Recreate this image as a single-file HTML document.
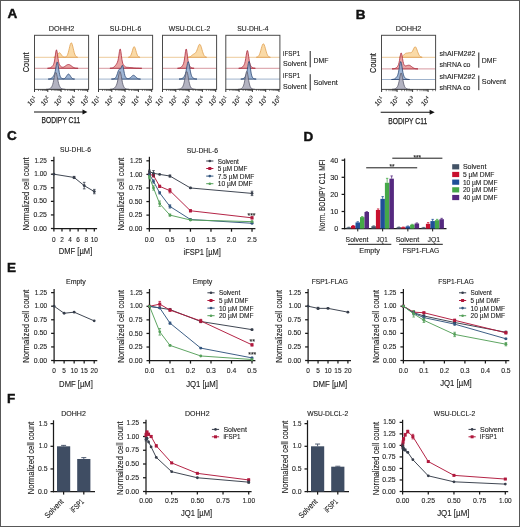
<!DOCTYPE html>
<html><head><meta charset="utf-8"><style>
html,body{margin:0;padding:0;background:#fff;}
svg{display:block;font-family:"Liberation Sans", sans-serif;will-change:transform;} text{stroke:#222;stroke-width:0.12px;}
</style></head><body>
<svg width="520" height="527" viewBox="0 0 520 527" fill="#222">
<rect width="520" height="527" fill="#fff"/>
<rect x="0.5" y="0.5" width="519" height="526" fill="none" stroke="#585858" stroke-width="1"/>
<text x="7.40" y="18.30" font-size="13.5" text-anchor="start" font-weight="bold" fill="#111" style="stroke:#111;stroke-width:0.45px">A</text>
<text x="355.80" y="18.60" font-size="13.5" text-anchor="start" font-weight="bold" fill="#111" style="stroke:#111;stroke-width:0.45px">B</text>
<text x="6.90" y="140.40" font-size="13.5" text-anchor="start" font-weight="bold" fill="#111" style="stroke:#111;stroke-width:0.45px">C</text>
<text x="303.40" y="140.50" font-size="13.5" text-anchor="start" font-weight="bold" fill="#111" style="stroke:#111;stroke-width:0.45px">D</text>
<text x="7.00" y="272.00" font-size="13.5" text-anchor="start" font-weight="bold" fill="#111" style="stroke:#111;stroke-width:0.45px">E</text>
<text x="7.00" y="403.00" font-size="13.5" text-anchor="start" font-weight="bold" fill="#111" style="stroke:#111;stroke-width:0.45px">F</text>
<text x="61.55" y="31.00" font-size="6.9" text-anchor="middle" textLength="25.50" lengthAdjust="spacingAndGlyphs">DOHH2</text>
<line x1="34.50" y1="57.30" x2="88.60" y2="57.30" stroke="#ebc590" stroke-width="0.9"/>
<line x1="34.50" y1="68.30" x2="88.60" y2="68.30" stroke="#d28c94" stroke-width="0.9"/>
<line x1="34.50" y1="79.10" x2="88.60" y2="79.10" stroke="#94aac6" stroke-width="0.9"/>
<path d="M53.7,57.3 L53.7,57.3 L54.2,57.2 L54.7,57.2 L55.2,57.0 L55.7,56.8 L56.2,56.4 L56.7,55.9 L57.2,55.3 L57.7,54.5 L58.2,53.8 L58.7,53.2 L59.2,52.8 L59.7,52.8 L60.2,53.2 L60.7,53.8 L61.2,54.5 L61.7,55.2 L62.2,55.9 L62.7,56.4 L63.2,56.8 L63.7,57.0 L64.2,57.1 L64.7,57.2 L65.2,57.1 L65.7,57.0 L66.2,56.7 L66.7,56.2 L67.2,55.5 L67.7,54.3 L68.2,52.8 L68.7,50.9 L69.2,48.8 L69.7,46.6 L70.2,44.7 L70.7,43.4 L71.2,42.8 L71.7,43.1 L72.2,44.3 L72.7,46.1 L73.2,48.2 L73.7,50.4 L74.2,52.4 L74.7,54.0 L75.2,55.2 L75.7,56.1 L76.2,56.6 L76.7,56.9 L77.2,57.1 L77.7,57.3 Z" fill="#f9d498" fill-opacity="0.85" stroke="#e0a050" stroke-width="0.8" stroke-linejoin="round"/>
<path d="M47.5,68.3 L47.5,68.3 L48.0,68.2 L48.5,68.2 L49.0,68.1 L49.5,68.0 L50.0,67.9 L50.5,67.7 L51.0,67.4 L51.5,67.0 L52.0,66.6 L52.5,66.1 L53.0,65.4 L53.5,64.5 L54.0,63.2 L54.5,61.0 L55.0,57.9 L55.5,54.1 L56.0,50.9 L56.5,49.8 L57.0,51.3 L57.5,54.7 L58.0,58.4 L58.5,61.4 L59.0,63.4 L59.5,64.7 L60.0,65.5 L60.5,66.1 L61.0,66.5 L61.5,66.9 L62.0,67.1 L62.5,67.2 L63.0,67.2 L63.5,67.1 L64.0,66.9 L64.5,66.6 L65.0,66.3 L65.5,65.9 L66.0,65.6 L66.5,65.2 L67.0,64.9 L67.5,64.7 L68.0,64.5 L68.5,64.5 L69.0,64.6 L69.5,64.7 L70.0,65.0 L70.5,65.3 L71.0,65.6 L71.5,66.0 L72.0,66.4 L72.5,66.8 L73.0,67.1 L73.5,67.4 L74.0,67.6 L74.5,67.8 L75.0,67.9 L75.5,68.1 L76.0,68.1 L76.5,68.2 L77.0,68.2 L77.5,68.3 L78.0,68.3 L78.1,68.3 Z" fill="#e69494" fill-opacity="0.85" stroke="#ab2a3c" stroke-width="0.8" stroke-linejoin="round"/>
<path d="M48.2,79.1 L48.2,79.1 L48.7,79.0 L49.2,79.0 L49.7,78.9 L50.2,78.8 L50.7,78.6 L51.2,78.4 L51.7,78.0 L52.2,77.6 L52.7,77.1 L53.2,76.4 L53.7,75.6 L54.2,74.7 L54.7,73.3 L55.2,71.4 L55.7,68.8 L56.2,65.7 L56.7,63.1 L57.2,61.9 L57.7,62.7 L58.2,65.4 L58.7,68.9 L59.2,72.2 L59.7,74.7 L60.2,76.3 L60.7,77.2 L61.2,77.8 L61.7,78.3 L62.2,78.5 L62.7,78.7 L63.2,78.8 L63.7,78.8 L64.2,78.6 L64.7,78.4 L65.2,78.0 L65.7,77.4 L66.2,76.7 L66.7,75.9 L67.2,75.2 L67.7,74.5 L68.2,74.2 L68.7,74.1 L69.2,74.4 L69.7,75.0 L70.2,75.7 L70.7,76.5 L71.2,77.3 L71.7,77.9 L72.2,78.3 L72.7,78.7 L73.2,78.9 L73.7,79.0 L74.2,79.0 L74.6,79.1 Z" fill="#8ea8cc" fill-opacity="0.85" stroke="#2c4874" stroke-width="0.8" stroke-linejoin="round"/>
<path d="M46.2,89.4 L46.2,89.4 L46.7,89.3 L47.2,89.3 L47.7,89.3 L48.2,89.2 L48.7,89.1 L49.2,88.9 L49.7,88.7 L50.2,88.4 L50.7,88.0 L51.2,87.5 L51.7,86.8 L52.2,85.8 L52.7,84.4 L53.2,82.6 L53.7,80.2 L54.2,77.7 L54.7,75.2 L55.2,73.3 L55.7,72.4 L56.2,72.8 L56.7,74.3 L57.2,76.6 L57.7,79.2 L58.2,81.7 L58.7,83.7 L59.2,85.3 L59.7,86.4 L60.2,87.3 L60.7,87.8 L61.2,88.3 L61.7,88.6 L62.2,88.8 L62.7,89.0 L63.2,89.1 L63.7,89.2 L64.2,89.3 L64.7,89.3 L65.2,89.4 L65.4,89.4 Z" fill="#a6a6b6" fill-opacity="0.85" stroke="#5a5a6c" stroke-width="0.8" stroke-linejoin="round"/>
<rect x="34.50" y="35.30" width="54.10" height="54.10" fill="none" stroke="#4a4a4a" stroke-width="1"/>
<text x="125.55" y="31.00" font-size="6.9" text-anchor="middle" textLength="31.40" lengthAdjust="spacingAndGlyphs">SU-DHL-6</text>
<line x1="98.50" y1="57.30" x2="152.60" y2="57.30" stroke="#ebc590" stroke-width="0.9"/>
<line x1="98.50" y1="68.30" x2="152.60" y2="68.30" stroke="#d28c94" stroke-width="0.9"/>
<line x1="98.50" y1="79.10" x2="152.60" y2="79.10" stroke="#94aac6" stroke-width="0.9"/>
<path d="M128.4,57.3 L128.4,57.2 L128.9,57.2 L129.4,57.0 L129.9,56.7 L130.4,56.1 L130.9,55.2 L131.4,54.0 L131.9,52.5 L132.4,50.7 L132.9,49.0 L133.4,47.6 L133.9,46.8 L134.4,46.8 L134.9,47.6 L135.4,48.9 L135.9,50.7 L136.4,52.4 L136.9,54.0 L137.4,55.2 L137.9,56.1 L138.4,56.6 L138.9,57.0 L139.4,57.1 L139.9,57.2 L140.0,57.3 Z" fill="#f9d498" fill-opacity="0.85" stroke="#e0a050" stroke-width="0.8" stroke-linejoin="round"/>
<path d="M109.9,68.3 L109.9,68.3 L110.4,68.2 L110.9,68.2 L111.4,68.1 L111.9,68.0 L112.4,67.9 L112.9,67.7 L113.4,67.4 L113.9,67.1 L114.4,66.6 L114.9,66.1 L115.4,65.5 L115.9,64.9 L116.4,64.2 L116.9,63.3 L117.4,62.3 L117.9,60.8 L118.4,58.5 L118.9,55.2 L119.4,51.7 L119.9,49.3 L120.4,49.2 L120.9,51.7 L121.4,55.5 L121.9,59.3 L122.4,62.0 L122.9,63.8 L123.4,64.8 L123.9,65.5 L124.4,66.0 L124.9,66.4 L125.4,66.8 L125.9,67.0 L126.4,67.2 L126.9,67.3 L127.4,67.3 L127.9,67.4 L128.4,67.4 L128.9,67.4 L129.4,67.5 L129.9,67.5 L130.4,67.5 L130.9,67.6 L131.4,67.6 L131.9,67.7 L132.4,67.7 L132.9,67.8 L133.4,67.9 L133.9,67.9 L134.4,68.0 L134.9,68.0 L135.4,68.1 L135.9,68.1 L136.4,68.2 L136.9,68.2 L137.4,68.2 L137.9,68.2 L138.4,68.2 L138.9,68.3 L139.4,68.3 L139.9,68.3 L140.4,68.3 L140.9,68.3 L141.4,68.3 L141.8,68.3 Z" fill="#e69494" fill-opacity="0.85" stroke="#ab2a3c" stroke-width="0.8" stroke-linejoin="round"/>
<path d="M111.4,79.1 L111.4,79.1 L111.9,79.0 L112.4,79.0 L112.9,79.0 L113.4,78.9 L113.9,78.8 L114.4,78.6 L114.9,78.3 L115.4,77.9 L115.9,77.3 L116.4,76.3 L116.9,75.1 L117.4,73.6 L117.9,72.0 L118.4,70.6 L118.9,69.6 L119.4,69.2 L119.9,69.1 L120.4,69.0 L120.9,68.3 L121.4,67.2 L121.9,65.9 L122.4,65.3 L122.9,66.1 L123.4,68.2 L123.9,70.9 L124.4,73.5 L124.9,75.5 L125.4,76.8 L125.9,77.6 L126.4,78.0 L126.9,78.3 L127.4,78.5 L127.9,78.6 L128.4,78.6 L128.9,78.5 L129.4,78.3 L129.9,78.0 L130.4,77.7 L130.9,77.2 L131.4,76.7 L131.9,76.2 L132.4,75.7 L132.9,75.4 L133.4,75.3 L133.9,75.4 L134.4,75.6 L134.9,76.0 L135.4,76.5 L135.9,77.0 L136.4,77.5 L136.9,77.9 L137.4,78.3 L137.9,78.6 L138.4,78.8 L138.9,78.9 L139.4,79.0 L139.9,79.0 L140.4,79.1 L140.5,79.1 Z" fill="#8ea8cc" fill-opacity="0.85" stroke="#2c4874" stroke-width="0.8" stroke-linejoin="round"/>
<path d="M109.9,89.4 L109.9,89.4 L110.4,89.3 L110.9,89.3 L111.4,89.2 L111.9,89.2 L112.4,89.0 L112.9,88.9 L113.4,88.6 L113.9,88.3 L114.4,88.0 L114.9,87.5 L115.4,86.9 L115.9,86.2 L116.4,85.2 L116.9,83.9 L117.4,82.0 L117.9,79.7 L118.4,77.0 L118.9,74.3 L119.4,72.3 L119.9,71.5 L120.4,72.1 L120.9,74.0 L121.4,76.7 L121.9,79.7 L122.4,82.3 L122.9,84.4 L123.4,85.9 L123.9,86.9 L124.4,87.7 L124.9,88.2 L125.4,88.5 L125.9,88.8 L126.4,89.0 L126.9,89.1 L127.4,89.2 L127.9,89.3 L128.4,89.3 L128.9,89.4 L129.1,89.4 Z" fill="#a6a6b6" fill-opacity="0.85" stroke="#5a5a6c" stroke-width="0.8" stroke-linejoin="round"/>
<rect x="98.50" y="35.30" width="54.10" height="54.10" fill="none" stroke="#4a4a4a" stroke-width="1"/>
<text x="189.55" y="31.00" font-size="6.9" text-anchor="middle" textLength="41.70" lengthAdjust="spacingAndGlyphs">WSU-DLCL-2</text>
<line x1="162.50" y1="57.30" x2="216.60" y2="57.30" stroke="#ebc590" stroke-width="0.9"/>
<line x1="162.50" y1="68.30" x2="216.60" y2="68.30" stroke="#d28c94" stroke-width="0.9"/>
<line x1="162.50" y1="79.10" x2="216.60" y2="79.10" stroke="#94aac6" stroke-width="0.9"/>
<path d="M187.0,57.3 L187.0,57.3 L187.5,57.3 L188.0,57.2 L188.5,57.2 L189.0,57.1 L189.5,56.9 L190.0,56.7 L190.5,56.5 L191.0,56.1 L191.5,55.7 L192.0,55.3 L192.5,54.9 L193.0,54.5 L193.5,54.2 L194.0,53.9 L194.5,53.6 L195.0,53.3 L195.5,52.9 L196.0,52.2 L196.5,51.3 L197.0,50.1 L197.5,48.7 L198.0,47.3 L198.5,45.9 L199.0,44.9 L199.5,44.3 L200.0,44.4 L200.5,45.1 L201.0,46.3 L201.5,47.9 L202.0,49.7 L202.5,51.4 L203.0,53.0 L203.5,54.3 L204.0,55.3 L204.5,56.1 L205.0,56.6 L205.5,56.9 L206.0,57.1 L206.5,57.2 L206.7,57.3 Z" fill="#f9d498" fill-opacity="0.85" stroke="#e0a050" stroke-width="0.8" stroke-linejoin="round"/>
<path d="M177.5,68.3 L177.5,68.3 L178.0,68.2 L178.5,68.2 L179.0,68.1 L179.5,68.0 L180.0,67.8 L180.5,67.6 L181.0,67.2 L181.5,66.8 L182.0,66.3 L182.5,65.6 L183.0,64.8 L183.5,63.6 L184.0,61.8 L184.5,59.0 L185.0,55.3 L185.5,51.4 L186.0,49.1 L186.5,49.4 L187.0,52.4 L187.5,56.6 L188.0,60.4 L188.5,63.2 L189.0,64.9 L189.5,65.9 L190.0,66.6 L190.5,67.1 L191.0,67.5 L191.5,67.7 L192.0,67.9 L192.5,68.1 L193.0,68.2 L193.5,68.2 L194.0,68.3 L194.1,68.3 Z" fill="#e69494" fill-opacity="0.85" stroke="#ab2a3c" stroke-width="0.8" stroke-linejoin="round"/>
<path d="M179.0,79.1 L179.0,79.1 L179.5,79.0 L180.0,79.0 L180.5,78.9 L181.0,78.8 L181.5,78.7 L182.0,78.5 L182.5,78.2 L183.0,77.8 L183.5,77.4 L184.0,76.8 L184.5,76.0 L185.0,74.9 L185.5,73.4 L186.0,71.3 L186.5,68.6 L187.0,65.8 L187.5,63.3 L188.0,61.8 L188.5,61.9 L189.0,63.5 L189.5,66.2 L190.0,69.2 L190.5,71.9 L191.0,74.1 L191.5,75.6 L192.0,76.7 L192.5,77.4 L193.0,77.9 L193.5,78.2 L194.0,78.5 L194.5,78.7 L195.0,78.8 L195.5,78.9 L196.0,79.0 L196.5,79.0 L197.0,79.1 Z" fill="#8ea8cc" fill-opacity="0.85" stroke="#2c4874" stroke-width="0.8" stroke-linejoin="round"/>
<path d="M177.5,89.4 L177.5,89.4 L178.0,89.3 L178.5,89.3 L179.0,89.2 L179.5,89.1 L180.0,89.0 L180.5,88.8 L181.0,88.5 L181.5,88.1 L182.0,87.6 L182.5,87.0 L183.0,86.1 L183.5,84.8 L184.0,83.1 L184.5,80.8 L185.0,78.1 L185.5,75.3 L186.0,72.9 L186.5,71.6 L187.0,71.7 L187.5,73.2 L188.0,75.7 L188.5,78.7 L189.0,81.5 L189.5,83.8 L190.0,85.5 L190.5,86.7 L191.0,87.6 L191.5,88.1 L192.0,88.5 L192.5,88.8 L193.0,89.0 L193.5,89.1 L194.0,89.2 L194.5,89.3 L195.0,89.3 L195.5,89.4 Z" fill="#a6a6b6" fill-opacity="0.85" stroke="#5a5a6c" stroke-width="0.8" stroke-linejoin="round"/>
<rect x="162.50" y="35.30" width="54.10" height="54.10" fill="none" stroke="#4a4a4a" stroke-width="1"/>
<text x="252.85" y="31.00" font-size="6.9" text-anchor="middle" textLength="31.20" lengthAdjust="spacingAndGlyphs">SU-DHL-4</text>
<line x1="225.80" y1="57.30" x2="279.90" y2="57.30" stroke="#ebc590" stroke-width="0.9"/>
<line x1="225.80" y1="68.30" x2="279.90" y2="68.30" stroke="#d28c94" stroke-width="0.9"/>
<line x1="225.80" y1="79.10" x2="279.90" y2="79.10" stroke="#94aac6" stroke-width="0.9"/>
<path d="M256.3,57.3 L256.3,57.2 L256.8,57.1 L257.3,57.0 L257.8,56.7 L258.3,56.3 L258.8,55.7 L259.3,54.8 L259.8,53.6 L260.3,52.1 L260.8,50.4 L261.3,48.5 L261.8,46.7 L262.3,45.2 L262.8,44.2 L263.3,43.8 L263.8,44.1 L264.3,45.0 L264.8,46.5 L265.3,48.2 L265.8,50.1 L266.3,51.8 L266.8,53.4 L267.3,54.6 L267.8,55.6 L268.3,56.2 L268.8,56.7 L269.3,57.0 L269.8,57.1 L270.3,57.2 L270.3,57.3 Z" fill="#f9d498" fill-opacity="0.85" stroke="#e0a050" stroke-width="0.8" stroke-linejoin="round"/>
<path d="M238.7,68.3 L238.7,68.3 L239.2,68.2 L239.7,68.2 L240.2,68.1 L240.7,68.0 L241.2,67.8 L241.7,67.6 L242.2,67.2 L242.7,66.8 L243.2,66.2 L243.7,65.5 L244.2,64.6 L244.7,63.4 L245.2,61.4 L245.7,58.7 L246.2,55.4 L246.7,52.3 L247.2,50.5 L247.7,50.8 L248.2,53.2 L248.7,56.6 L249.2,60.1 L249.7,62.8 L250.2,64.6 L250.7,65.8 L251.2,66.6 L251.7,67.1 L252.2,67.5 L252.7,67.7 L253.2,67.9 L253.7,68.1 L254.2,68.2 L254.7,68.2 L255.2,68.3 L255.3,68.3 Z" fill="#e69494" fill-opacity="0.85" stroke="#ab2a3c" stroke-width="0.8" stroke-linejoin="round"/>
<path d="M240.8,79.1 L240.8,79.1 L241.3,79.0 L241.8,79.0 L242.3,78.9 L242.8,78.7 L243.3,78.5 L243.8,78.2 L244.3,77.8 L244.8,77.2 L245.3,76.5 L245.8,75.6 L246.3,74.3 L246.8,72.4 L247.3,69.8 L247.8,66.5 L248.3,63.4 L248.8,61.5 L249.3,61.6 L249.8,63.9 L250.3,67.4 L250.8,71.0 L251.3,73.9 L251.8,75.9 L252.3,77.1 L252.8,77.8 L253.3,78.3 L253.8,78.6 L254.3,78.8 L254.8,78.9 L255.3,79.0 L255.8,79.0 L256.2,79.1 Z" fill="#8ea8cc" fill-opacity="0.85" stroke="#2c4874" stroke-width="0.8" stroke-linejoin="round"/>
<path d="M238.2,89.4 L238.2,89.4 L238.7,89.3 L239.2,89.3 L239.7,89.2 L240.2,89.1 L240.7,88.9 L241.2,88.7 L241.7,88.3 L242.2,87.8 L242.7,87.2 L243.2,86.3 L243.7,85.1 L244.2,83.3 L244.7,80.9 L245.2,78.0 L245.7,75.0 L246.2,72.6 L246.7,71.5 L247.2,72.0 L247.7,74.1 L248.2,77.1 L248.7,80.3 L249.2,83.0 L249.7,85.1 L250.2,86.5 L250.7,87.5 L251.2,88.1 L251.7,88.5 L252.2,88.8 L252.7,89.0 L253.2,89.2 L253.7,89.3 L254.2,89.3 L254.7,89.4 L254.8,89.4 Z" fill="#a6a6b6" fill-opacity="0.85" stroke="#5a5a6c" stroke-width="0.8" stroke-linejoin="round"/>
<rect x="225.80" y="35.30" width="54.10" height="54.10" fill="none" stroke="#4a4a4a" stroke-width="1"/>
<text x="408.55" y="31.00" font-size="6.9" text-anchor="middle" textLength="25.50" lengthAdjust="spacingAndGlyphs">DOHH2</text>
<line x1="381.50" y1="57.30" x2="435.60" y2="57.30" stroke="#ebc590" stroke-width="0.9"/>
<line x1="381.50" y1="68.90" x2="435.60" y2="68.90" stroke="#d28c94" stroke-width="0.9"/>
<line x1="381.50" y1="79.50" x2="435.60" y2="79.50" stroke="#94aac6" stroke-width="0.9"/>
<path d="M399.1,57.3 L399.1,57.3 L399.6,57.3 L400.1,57.2 L400.6,57.1 L401.1,57.0 L401.6,56.8 L402.1,56.5 L402.6,56.1 L403.1,55.7 L403.6,55.1 L404.1,54.6 L404.6,54.1 L405.1,53.7 L405.6,53.4 L406.1,53.2 L406.6,53.1 L407.1,53.0 L407.6,53.0 L408.1,52.9 L408.6,52.8 L409.1,52.7 L409.6,52.7 L410.1,52.7 L410.6,52.7 L411.1,52.6 L411.6,52.4 L412.1,51.8 L412.6,51.0 L413.1,50.0 L413.6,48.9 L414.1,47.9 L414.6,47.1 L415.1,46.8 L415.6,47.0 L416.1,47.7 L416.6,48.8 L417.1,50.1 L417.6,51.6 L418.1,52.9 L418.6,54.1 L419.1,55.1 L419.6,55.9 L420.1,56.4 L420.6,56.8 L421.1,57.0 L421.6,57.1 L422.1,57.2 L422.2,57.3 Z" fill="#f9d498" fill-opacity="0.85" stroke="#e0a050" stroke-width="0.8" stroke-linejoin="round"/>
<path d="M392.0,68.9 L392.0,68.9 L392.5,68.8 L393.0,68.8 L393.5,68.8 L394.0,68.7 L394.5,68.6 L395.0,68.4 L395.5,68.2 L396.0,67.9 L396.5,67.5 L397.0,67.0 L397.5,66.5 L398.0,65.7 L398.5,64.6 L399.0,62.8 L399.5,60.3 L400.0,57.3 L400.5,54.5 L401.0,52.9 L401.5,53.3 L402.0,55.5 L402.5,58.5 L403.0,61.3 L403.5,63.4 L404.0,64.7 L404.5,65.4 L405.0,65.7 L405.5,65.9 L406.0,65.8 L406.5,65.7 L407.0,65.6 L407.5,65.4 L408.0,65.3 L408.5,65.2 L409.0,65.2 L409.5,65.3 L410.0,65.5 L410.5,65.8 L411.0,66.1 L411.5,66.5 L412.0,66.9 L412.5,67.3 L413.0,67.6 L413.5,67.9 L414.0,68.2 L414.5,68.4 L415.0,68.5 L415.5,68.7 L416.0,68.7 L416.5,68.8 L417.0,68.8 L417.5,68.9 L418.0,68.9 Z" fill="#e69494" fill-opacity="0.85" stroke="#ab2a3c" stroke-width="0.8" stroke-linejoin="round"/>
<path d="M391.5,79.5 L391.5,79.5 L392.0,79.4 L392.5,79.4 L393.0,79.3 L393.5,79.2 L394.0,79.1 L394.5,78.9 L395.0,78.6 L395.5,78.2 L396.0,77.8 L396.5,77.2 L397.0,76.5 L397.5,75.6 L398.0,74.2 L398.5,72.2 L399.0,69.5 L399.5,66.3 L400.0,63.5 L400.5,61.7 L401.0,61.8 L401.5,63.7 L402.0,66.7 L402.5,70.0 L403.0,72.8 L403.5,74.9 L404.0,76.3 L404.5,77.2 L405.0,77.8 L405.5,78.3 L406.0,78.6 L406.5,78.9 L407.0,79.1 L407.5,79.2 L408.0,79.3 L408.5,79.4 L409.0,79.4 L409.5,79.5 Z" fill="#8ea8cc" fill-opacity="0.85" stroke="#2c4874" stroke-width="0.8" stroke-linejoin="round"/>
<path d="M392.0,89.4 L392.0,89.4 L392.5,89.3 L393.0,89.3 L393.5,89.2 L394.0,89.1 L394.5,89.0 L395.0,88.8 L395.5,88.6 L396.0,88.2 L396.5,87.8 L397.0,87.2 L397.5,86.5 L398.0,85.4 L398.5,83.9 L399.0,81.7 L399.5,79.2 L400.0,76.4 L400.5,74.1 L401.0,73.0 L401.5,73.3 L402.0,75.1 L402.5,77.7 L403.0,80.5 L403.5,83.0 L404.0,84.9 L404.5,86.3 L405.0,87.2 L405.5,87.8 L406.0,88.3 L406.5,88.6 L407.0,88.9 L407.5,89.0 L408.0,89.2 L408.5,89.3 L409.0,89.3 L409.5,89.3 L410.0,89.4 Z" fill="#a6a6b6" fill-opacity="0.85" stroke="#5a5a6c" stroke-width="0.8" stroke-linejoin="round"/>
<rect x="381.50" y="35.30" width="54.10" height="54.10" fill="none" stroke="#4a4a4a" stroke-width="1"/>
<line x1="38.50" y1="89.40" x2="38.50" y2="91.00" stroke="#333" stroke-width="0.6"/>
<line x1="40.85" y1="89.40" x2="40.85" y2="91.00" stroke="#333" stroke-width="0.6"/>
<line x1="42.51" y1="89.40" x2="42.51" y2="91.00" stroke="#333" stroke-width="0.6"/>
<line x1="43.80" y1="89.40" x2="43.80" y2="91.00" stroke="#333" stroke-width="0.6"/>
<line x1="44.85" y1="89.40" x2="44.85" y2="91.00" stroke="#333" stroke-width="0.6"/>
<line x1="45.74" y1="89.40" x2="45.74" y2="91.00" stroke="#333" stroke-width="0.6"/>
<line x1="46.51" y1="89.40" x2="46.51" y2="91.00" stroke="#333" stroke-width="0.6"/>
<line x1="47.19" y1="89.40" x2="47.19" y2="91.00" stroke="#333" stroke-width="0.6"/>
<line x1="51.80" y1="89.40" x2="51.80" y2="91.00" stroke="#333" stroke-width="0.6"/>
<line x1="54.15" y1="89.40" x2="54.15" y2="91.00" stroke="#333" stroke-width="0.6"/>
<line x1="55.81" y1="89.40" x2="55.81" y2="91.00" stroke="#333" stroke-width="0.6"/>
<line x1="57.10" y1="89.40" x2="57.10" y2="91.00" stroke="#333" stroke-width="0.6"/>
<line x1="58.15" y1="89.40" x2="58.15" y2="91.00" stroke="#333" stroke-width="0.6"/>
<line x1="59.04" y1="89.40" x2="59.04" y2="91.00" stroke="#333" stroke-width="0.6"/>
<line x1="59.81" y1="89.40" x2="59.81" y2="91.00" stroke="#333" stroke-width="0.6"/>
<line x1="60.49" y1="89.40" x2="60.49" y2="91.00" stroke="#333" stroke-width="0.6"/>
<line x1="65.10" y1="89.40" x2="65.10" y2="91.00" stroke="#333" stroke-width="0.6"/>
<line x1="67.45" y1="89.40" x2="67.45" y2="91.00" stroke="#333" stroke-width="0.6"/>
<line x1="69.11" y1="89.40" x2="69.11" y2="91.00" stroke="#333" stroke-width="0.6"/>
<line x1="70.40" y1="89.40" x2="70.40" y2="91.00" stroke="#333" stroke-width="0.6"/>
<line x1="71.45" y1="89.40" x2="71.45" y2="91.00" stroke="#333" stroke-width="0.6"/>
<line x1="72.34" y1="89.40" x2="72.34" y2="91.00" stroke="#333" stroke-width="0.6"/>
<line x1="73.11" y1="89.40" x2="73.11" y2="91.00" stroke="#333" stroke-width="0.6"/>
<line x1="73.79" y1="89.40" x2="73.79" y2="91.00" stroke="#333" stroke-width="0.6"/>
<line x1="78.40" y1="89.40" x2="78.40" y2="91.00" stroke="#333" stroke-width="0.6"/>
<line x1="80.75" y1="89.40" x2="80.75" y2="91.00" stroke="#333" stroke-width="0.6"/>
<line x1="82.41" y1="89.40" x2="82.41" y2="91.00" stroke="#333" stroke-width="0.6"/>
<line x1="83.70" y1="89.40" x2="83.70" y2="91.00" stroke="#333" stroke-width="0.6"/>
<line x1="84.75" y1="89.40" x2="84.75" y2="91.00" stroke="#333" stroke-width="0.6"/>
<line x1="85.64" y1="89.40" x2="85.64" y2="91.00" stroke="#333" stroke-width="0.6"/>
<line x1="86.41" y1="89.40" x2="86.41" y2="91.00" stroke="#333" stroke-width="0.6"/>
<line x1="87.09" y1="89.40" x2="87.09" y2="91.00" stroke="#333" stroke-width="0.6"/>
<line x1="34.50" y1="89.40" x2="34.50" y2="92.00" stroke="#222" stroke-width="0.9"/>
<text x="37.10" y="99.30" font-size="6.7" text-anchor="end" transform="rotate(-45 37.10 99.30)">10<tspan font-size="4.4" dy="-2.8">1</tspan></text>
<line x1="47.80" y1="89.40" x2="47.80" y2="92.00" stroke="#222" stroke-width="0.9"/>
<text x="50.40" y="99.30" font-size="6.7" text-anchor="end" transform="rotate(-45 50.40 99.30)">10<tspan font-size="4.4" dy="-2.8">2</tspan></text>
<line x1="61.10" y1="89.40" x2="61.10" y2="92.00" stroke="#222" stroke-width="0.9"/>
<text x="63.70" y="99.30" font-size="6.7" text-anchor="end" transform="rotate(-45 63.70 99.30)">10<tspan font-size="4.4" dy="-2.8">3</tspan></text>
<line x1="74.40" y1="89.40" x2="74.40" y2="92.00" stroke="#222" stroke-width="0.9"/>
<text x="77.00" y="99.30" font-size="6.7" text-anchor="end" transform="rotate(-45 77.00 99.30)">10<tspan font-size="4.4" dy="-2.8">4</tspan></text>
<line x1="87.70" y1="89.40" x2="87.70" y2="92.00" stroke="#222" stroke-width="0.9"/>
<text x="90.30" y="99.30" font-size="6.7" text-anchor="end" transform="rotate(-45 90.30 99.30)">10<tspan font-size="4.4" dy="-2.8">5</tspan></text>
<line x1="102.50" y1="89.40" x2="102.50" y2="91.00" stroke="#333" stroke-width="0.6"/>
<line x1="104.85" y1="89.40" x2="104.85" y2="91.00" stroke="#333" stroke-width="0.6"/>
<line x1="106.51" y1="89.40" x2="106.51" y2="91.00" stroke="#333" stroke-width="0.6"/>
<line x1="107.80" y1="89.40" x2="107.80" y2="91.00" stroke="#333" stroke-width="0.6"/>
<line x1="108.85" y1="89.40" x2="108.85" y2="91.00" stroke="#333" stroke-width="0.6"/>
<line x1="109.74" y1="89.40" x2="109.74" y2="91.00" stroke="#333" stroke-width="0.6"/>
<line x1="110.51" y1="89.40" x2="110.51" y2="91.00" stroke="#333" stroke-width="0.6"/>
<line x1="111.19" y1="89.40" x2="111.19" y2="91.00" stroke="#333" stroke-width="0.6"/>
<line x1="115.80" y1="89.40" x2="115.80" y2="91.00" stroke="#333" stroke-width="0.6"/>
<line x1="118.15" y1="89.40" x2="118.15" y2="91.00" stroke="#333" stroke-width="0.6"/>
<line x1="119.81" y1="89.40" x2="119.81" y2="91.00" stroke="#333" stroke-width="0.6"/>
<line x1="121.10" y1="89.40" x2="121.10" y2="91.00" stroke="#333" stroke-width="0.6"/>
<line x1="122.15" y1="89.40" x2="122.15" y2="91.00" stroke="#333" stroke-width="0.6"/>
<line x1="123.04" y1="89.40" x2="123.04" y2="91.00" stroke="#333" stroke-width="0.6"/>
<line x1="123.81" y1="89.40" x2="123.81" y2="91.00" stroke="#333" stroke-width="0.6"/>
<line x1="124.49" y1="89.40" x2="124.49" y2="91.00" stroke="#333" stroke-width="0.6"/>
<line x1="129.10" y1="89.40" x2="129.10" y2="91.00" stroke="#333" stroke-width="0.6"/>
<line x1="131.45" y1="89.40" x2="131.45" y2="91.00" stroke="#333" stroke-width="0.6"/>
<line x1="133.11" y1="89.40" x2="133.11" y2="91.00" stroke="#333" stroke-width="0.6"/>
<line x1="134.40" y1="89.40" x2="134.40" y2="91.00" stroke="#333" stroke-width="0.6"/>
<line x1="135.45" y1="89.40" x2="135.45" y2="91.00" stroke="#333" stroke-width="0.6"/>
<line x1="136.34" y1="89.40" x2="136.34" y2="91.00" stroke="#333" stroke-width="0.6"/>
<line x1="137.11" y1="89.40" x2="137.11" y2="91.00" stroke="#333" stroke-width="0.6"/>
<line x1="137.79" y1="89.40" x2="137.79" y2="91.00" stroke="#333" stroke-width="0.6"/>
<line x1="142.40" y1="89.40" x2="142.40" y2="91.00" stroke="#333" stroke-width="0.6"/>
<line x1="144.75" y1="89.40" x2="144.75" y2="91.00" stroke="#333" stroke-width="0.6"/>
<line x1="146.41" y1="89.40" x2="146.41" y2="91.00" stroke="#333" stroke-width="0.6"/>
<line x1="147.70" y1="89.40" x2="147.70" y2="91.00" stroke="#333" stroke-width="0.6"/>
<line x1="148.75" y1="89.40" x2="148.75" y2="91.00" stroke="#333" stroke-width="0.6"/>
<line x1="149.64" y1="89.40" x2="149.64" y2="91.00" stroke="#333" stroke-width="0.6"/>
<line x1="150.41" y1="89.40" x2="150.41" y2="91.00" stroke="#333" stroke-width="0.6"/>
<line x1="151.09" y1="89.40" x2="151.09" y2="91.00" stroke="#333" stroke-width="0.6"/>
<line x1="98.50" y1="89.40" x2="98.50" y2="92.00" stroke="#222" stroke-width="0.9"/>
<text x="101.10" y="99.30" font-size="6.7" text-anchor="end" transform="rotate(-45 101.10 99.30)">10<tspan font-size="4.4" dy="-2.8">1</tspan></text>
<line x1="111.80" y1="89.40" x2="111.80" y2="92.00" stroke="#222" stroke-width="0.9"/>
<text x="114.40" y="99.30" font-size="6.7" text-anchor="end" transform="rotate(-45 114.40 99.30)">10<tspan font-size="4.4" dy="-2.8">2</tspan></text>
<line x1="125.10" y1="89.40" x2="125.10" y2="92.00" stroke="#222" stroke-width="0.9"/>
<text x="127.70" y="99.30" font-size="6.7" text-anchor="end" transform="rotate(-45 127.70 99.30)">10<tspan font-size="4.4" dy="-2.8">3</tspan></text>
<line x1="138.40" y1="89.40" x2="138.40" y2="92.00" stroke="#222" stroke-width="0.9"/>
<text x="141.00" y="99.30" font-size="6.7" text-anchor="end" transform="rotate(-45 141.00 99.30)">10<tspan font-size="4.4" dy="-2.8">4</tspan></text>
<line x1="151.70" y1="89.40" x2="151.70" y2="92.00" stroke="#222" stroke-width="0.9"/>
<text x="154.30" y="99.30" font-size="6.7" text-anchor="end" transform="rotate(-45 154.30 99.30)">10<tspan font-size="4.4" dy="-2.8">5</tspan></text>
<line x1="166.50" y1="89.40" x2="166.50" y2="91.00" stroke="#333" stroke-width="0.6"/>
<line x1="168.85" y1="89.40" x2="168.85" y2="91.00" stroke="#333" stroke-width="0.6"/>
<line x1="170.51" y1="89.40" x2="170.51" y2="91.00" stroke="#333" stroke-width="0.6"/>
<line x1="171.80" y1="89.40" x2="171.80" y2="91.00" stroke="#333" stroke-width="0.6"/>
<line x1="172.85" y1="89.40" x2="172.85" y2="91.00" stroke="#333" stroke-width="0.6"/>
<line x1="173.74" y1="89.40" x2="173.74" y2="91.00" stroke="#333" stroke-width="0.6"/>
<line x1="174.51" y1="89.40" x2="174.51" y2="91.00" stroke="#333" stroke-width="0.6"/>
<line x1="175.19" y1="89.40" x2="175.19" y2="91.00" stroke="#333" stroke-width="0.6"/>
<line x1="179.80" y1="89.40" x2="179.80" y2="91.00" stroke="#333" stroke-width="0.6"/>
<line x1="182.15" y1="89.40" x2="182.15" y2="91.00" stroke="#333" stroke-width="0.6"/>
<line x1="183.81" y1="89.40" x2="183.81" y2="91.00" stroke="#333" stroke-width="0.6"/>
<line x1="185.10" y1="89.40" x2="185.10" y2="91.00" stroke="#333" stroke-width="0.6"/>
<line x1="186.15" y1="89.40" x2="186.15" y2="91.00" stroke="#333" stroke-width="0.6"/>
<line x1="187.04" y1="89.40" x2="187.04" y2="91.00" stroke="#333" stroke-width="0.6"/>
<line x1="187.81" y1="89.40" x2="187.81" y2="91.00" stroke="#333" stroke-width="0.6"/>
<line x1="188.49" y1="89.40" x2="188.49" y2="91.00" stroke="#333" stroke-width="0.6"/>
<line x1="193.10" y1="89.40" x2="193.10" y2="91.00" stroke="#333" stroke-width="0.6"/>
<line x1="195.45" y1="89.40" x2="195.45" y2="91.00" stroke="#333" stroke-width="0.6"/>
<line x1="197.11" y1="89.40" x2="197.11" y2="91.00" stroke="#333" stroke-width="0.6"/>
<line x1="198.40" y1="89.40" x2="198.40" y2="91.00" stroke="#333" stroke-width="0.6"/>
<line x1="199.45" y1="89.40" x2="199.45" y2="91.00" stroke="#333" stroke-width="0.6"/>
<line x1="200.34" y1="89.40" x2="200.34" y2="91.00" stroke="#333" stroke-width="0.6"/>
<line x1="201.11" y1="89.40" x2="201.11" y2="91.00" stroke="#333" stroke-width="0.6"/>
<line x1="201.79" y1="89.40" x2="201.79" y2="91.00" stroke="#333" stroke-width="0.6"/>
<line x1="206.40" y1="89.40" x2="206.40" y2="91.00" stroke="#333" stroke-width="0.6"/>
<line x1="208.75" y1="89.40" x2="208.75" y2="91.00" stroke="#333" stroke-width="0.6"/>
<line x1="210.41" y1="89.40" x2="210.41" y2="91.00" stroke="#333" stroke-width="0.6"/>
<line x1="211.70" y1="89.40" x2="211.70" y2="91.00" stroke="#333" stroke-width="0.6"/>
<line x1="212.75" y1="89.40" x2="212.75" y2="91.00" stroke="#333" stroke-width="0.6"/>
<line x1="213.64" y1="89.40" x2="213.64" y2="91.00" stroke="#333" stroke-width="0.6"/>
<line x1="214.41" y1="89.40" x2="214.41" y2="91.00" stroke="#333" stroke-width="0.6"/>
<line x1="215.09" y1="89.40" x2="215.09" y2="91.00" stroke="#333" stroke-width="0.6"/>
<line x1="162.50" y1="89.40" x2="162.50" y2="92.00" stroke="#222" stroke-width="0.9"/>
<text x="165.10" y="99.30" font-size="6.7" text-anchor="end" transform="rotate(-45 165.10 99.30)">10<tspan font-size="4.4" dy="-2.8">1</tspan></text>
<line x1="175.80" y1="89.40" x2="175.80" y2="92.00" stroke="#222" stroke-width="0.9"/>
<text x="178.40" y="99.30" font-size="6.7" text-anchor="end" transform="rotate(-45 178.40 99.30)">10<tspan font-size="4.4" dy="-2.8">2</tspan></text>
<line x1="189.10" y1="89.40" x2="189.10" y2="92.00" stroke="#222" stroke-width="0.9"/>
<text x="191.70" y="99.30" font-size="6.7" text-anchor="end" transform="rotate(-45 191.70 99.30)">10<tspan font-size="4.4" dy="-2.8">3</tspan></text>
<line x1="202.40" y1="89.40" x2="202.40" y2="92.00" stroke="#222" stroke-width="0.9"/>
<text x="205.00" y="99.30" font-size="6.7" text-anchor="end" transform="rotate(-45 205.00 99.30)">10<tspan font-size="4.4" dy="-2.8">4</tspan></text>
<line x1="215.70" y1="89.40" x2="215.70" y2="92.00" stroke="#222" stroke-width="0.9"/>
<text x="218.30" y="99.30" font-size="6.7" text-anchor="end" transform="rotate(-45 218.30 99.30)">10<tspan font-size="4.4" dy="-2.8">5</tspan></text>
<line x1="229.80" y1="89.40" x2="229.80" y2="91.00" stroke="#333" stroke-width="0.6"/>
<line x1="232.15" y1="89.40" x2="232.15" y2="91.00" stroke="#333" stroke-width="0.6"/>
<line x1="233.81" y1="89.40" x2="233.81" y2="91.00" stroke="#333" stroke-width="0.6"/>
<line x1="235.10" y1="89.40" x2="235.10" y2="91.00" stroke="#333" stroke-width="0.6"/>
<line x1="236.15" y1="89.40" x2="236.15" y2="91.00" stroke="#333" stroke-width="0.6"/>
<line x1="237.04" y1="89.40" x2="237.04" y2="91.00" stroke="#333" stroke-width="0.6"/>
<line x1="237.81" y1="89.40" x2="237.81" y2="91.00" stroke="#333" stroke-width="0.6"/>
<line x1="238.49" y1="89.40" x2="238.49" y2="91.00" stroke="#333" stroke-width="0.6"/>
<line x1="243.10" y1="89.40" x2="243.10" y2="91.00" stroke="#333" stroke-width="0.6"/>
<line x1="245.45" y1="89.40" x2="245.45" y2="91.00" stroke="#333" stroke-width="0.6"/>
<line x1="247.11" y1="89.40" x2="247.11" y2="91.00" stroke="#333" stroke-width="0.6"/>
<line x1="248.40" y1="89.40" x2="248.40" y2="91.00" stroke="#333" stroke-width="0.6"/>
<line x1="249.45" y1="89.40" x2="249.45" y2="91.00" stroke="#333" stroke-width="0.6"/>
<line x1="250.34" y1="89.40" x2="250.34" y2="91.00" stroke="#333" stroke-width="0.6"/>
<line x1="251.11" y1="89.40" x2="251.11" y2="91.00" stroke="#333" stroke-width="0.6"/>
<line x1="251.79" y1="89.40" x2="251.79" y2="91.00" stroke="#333" stroke-width="0.6"/>
<line x1="256.40" y1="89.40" x2="256.40" y2="91.00" stroke="#333" stroke-width="0.6"/>
<line x1="258.75" y1="89.40" x2="258.75" y2="91.00" stroke="#333" stroke-width="0.6"/>
<line x1="260.41" y1="89.40" x2="260.41" y2="91.00" stroke="#333" stroke-width="0.6"/>
<line x1="261.70" y1="89.40" x2="261.70" y2="91.00" stroke="#333" stroke-width="0.6"/>
<line x1="262.75" y1="89.40" x2="262.75" y2="91.00" stroke="#333" stroke-width="0.6"/>
<line x1="263.64" y1="89.40" x2="263.64" y2="91.00" stroke="#333" stroke-width="0.6"/>
<line x1="264.41" y1="89.40" x2="264.41" y2="91.00" stroke="#333" stroke-width="0.6"/>
<line x1="265.09" y1="89.40" x2="265.09" y2="91.00" stroke="#333" stroke-width="0.6"/>
<line x1="269.70" y1="89.40" x2="269.70" y2="91.00" stroke="#333" stroke-width="0.6"/>
<line x1="272.05" y1="89.40" x2="272.05" y2="91.00" stroke="#333" stroke-width="0.6"/>
<line x1="273.71" y1="89.40" x2="273.71" y2="91.00" stroke="#333" stroke-width="0.6"/>
<line x1="275.00" y1="89.40" x2="275.00" y2="91.00" stroke="#333" stroke-width="0.6"/>
<line x1="276.05" y1="89.40" x2="276.05" y2="91.00" stroke="#333" stroke-width="0.6"/>
<line x1="276.94" y1="89.40" x2="276.94" y2="91.00" stroke="#333" stroke-width="0.6"/>
<line x1="277.71" y1="89.40" x2="277.71" y2="91.00" stroke="#333" stroke-width="0.6"/>
<line x1="278.39" y1="89.40" x2="278.39" y2="91.00" stroke="#333" stroke-width="0.6"/>
<line x1="225.80" y1="89.40" x2="225.80" y2="92.00" stroke="#222" stroke-width="0.9"/>
<text x="228.40" y="99.30" font-size="6.7" text-anchor="end" transform="rotate(-45 228.40 99.30)">10<tspan font-size="4.4" dy="-2.8">1</tspan></text>
<line x1="239.10" y1="89.40" x2="239.10" y2="92.00" stroke="#222" stroke-width="0.9"/>
<text x="241.70" y="99.30" font-size="6.7" text-anchor="end" transform="rotate(-45 241.70 99.30)">10<tspan font-size="4.4" dy="-2.8">2</tspan></text>
<line x1="252.40" y1="89.40" x2="252.40" y2="92.00" stroke="#222" stroke-width="0.9"/>
<text x="255.00" y="99.30" font-size="6.7" text-anchor="end" transform="rotate(-45 255.00 99.30)">10<tspan font-size="4.4" dy="-2.8">3</tspan></text>
<line x1="265.70" y1="89.40" x2="265.70" y2="92.00" stroke="#222" stroke-width="0.9"/>
<text x="268.30" y="99.30" font-size="6.7" text-anchor="end" transform="rotate(-45 268.30 99.30)">10<tspan font-size="4.4" dy="-2.8">4</tspan></text>
<line x1="279.00" y1="89.40" x2="279.00" y2="92.00" stroke="#222" stroke-width="0.9"/>
<text x="281.60" y="99.30" font-size="6.7" text-anchor="end" transform="rotate(-45 281.60 99.30)">10<tspan font-size="4.4" dy="-2.8">5</tspan></text>
<line x1="34.00" y1="112.00" x2="83.50" y2="112.00" stroke="#111" stroke-width="1.1"/>
<path d="M82.5,109.5 L87.4,112 L82.5,114.5 Z" fill="#111"/>
<text x="60.90" y="123.20" font-size="9.4" text-anchor="middle" textLength="38.70" lengthAdjust="spacingAndGlyphs" style="stroke-width:0.25px">BODIPY C11</text>
<text x="29.20" y="62.40" font-size="9.8" text-anchor="middle" textLength="19.80" lengthAdjust="spacingAndGlyphs" transform="rotate(-90 29.20 62.40)" style="stroke-width:0.2px">Count</text>
<line x1="386.27" y1="89.40" x2="386.27" y2="91.20" stroke="#333" stroke-width="0.6"/>
<line x1="389.00" y1="89.40" x2="389.00" y2="91.20" stroke="#333" stroke-width="0.6"/>
<line x1="390.93" y1="89.40" x2="390.93" y2="91.20" stroke="#333" stroke-width="0.6"/>
<line x1="392.43" y1="89.40" x2="392.43" y2="91.20" stroke="#333" stroke-width="0.6"/>
<line x1="393.66" y1="89.40" x2="393.66" y2="91.20" stroke="#333" stroke-width="0.6"/>
<line x1="394.70" y1="89.40" x2="394.70" y2="91.20" stroke="#333" stroke-width="0.6"/>
<line x1="395.60" y1="89.40" x2="395.60" y2="91.20" stroke="#333" stroke-width="0.6"/>
<line x1="396.39" y1="89.40" x2="396.39" y2="91.20" stroke="#333" stroke-width="0.6"/>
<line x1="401.77" y1="89.40" x2="401.77" y2="91.20" stroke="#333" stroke-width="0.6"/>
<line x1="404.50" y1="89.40" x2="404.50" y2="91.20" stroke="#333" stroke-width="0.6"/>
<line x1="406.43" y1="89.40" x2="406.43" y2="91.20" stroke="#333" stroke-width="0.6"/>
<line x1="407.93" y1="89.40" x2="407.93" y2="91.20" stroke="#333" stroke-width="0.6"/>
<line x1="409.16" y1="89.40" x2="409.16" y2="91.20" stroke="#333" stroke-width="0.6"/>
<line x1="410.20" y1="89.40" x2="410.20" y2="91.20" stroke="#333" stroke-width="0.6"/>
<line x1="411.10" y1="89.40" x2="411.10" y2="91.20" stroke="#333" stroke-width="0.6"/>
<line x1="411.89" y1="89.40" x2="411.89" y2="91.20" stroke="#333" stroke-width="0.6"/>
<line x1="417.27" y1="89.40" x2="417.27" y2="91.20" stroke="#333" stroke-width="0.6"/>
<line x1="420.00" y1="89.40" x2="420.00" y2="91.20" stroke="#333" stroke-width="0.6"/>
<line x1="421.93" y1="89.40" x2="421.93" y2="91.20" stroke="#333" stroke-width="0.6"/>
<line x1="423.43" y1="89.40" x2="423.43" y2="91.20" stroke="#333" stroke-width="0.6"/>
<line x1="424.66" y1="89.40" x2="424.66" y2="91.20" stroke="#333" stroke-width="0.6"/>
<line x1="425.70" y1="89.40" x2="425.70" y2="91.20" stroke="#333" stroke-width="0.6"/>
<line x1="426.60" y1="89.40" x2="426.60" y2="91.20" stroke="#333" stroke-width="0.6"/>
<line x1="427.39" y1="89.40" x2="427.39" y2="91.20" stroke="#333" stroke-width="0.6"/>
<line x1="432.77" y1="89.40" x2="432.77" y2="91.20" stroke="#333" stroke-width="0.6"/>
<line x1="435.50" y1="89.40" x2="435.50" y2="91.20" stroke="#333" stroke-width="0.6"/>
<line x1="381.60" y1="89.40" x2="381.60" y2="92.00" stroke="#222" stroke-width="0.9"/>
<text x="384.20" y="99.60" font-size="6.7" text-anchor="end" transform="rotate(-45 384.20 99.60)">10<tspan font-size="4.4" dy="-2.8">1</tspan></text>
<line x1="397.10" y1="89.40" x2="397.10" y2="92.00" stroke="#222" stroke-width="0.9"/>
<text x="399.70" y="99.60" font-size="6.7" text-anchor="end" transform="rotate(-45 399.70 99.60)">10<tspan font-size="4.4" dy="-2.8">2</tspan></text>
<line x1="412.60" y1="89.40" x2="412.60" y2="92.00" stroke="#222" stroke-width="0.9"/>
<text x="415.20" y="99.60" font-size="6.7" text-anchor="end" transform="rotate(-45 415.20 99.60)">10<tspan font-size="4.4" dy="-2.8">3</tspan></text>
<line x1="428.10" y1="89.40" x2="428.10" y2="92.00" stroke="#222" stroke-width="0.9"/>
<text x="430.70" y="99.60" font-size="6.7" text-anchor="end" transform="rotate(-45 430.70 99.60)">10<tspan font-size="4.4" dy="-2.8">4</tspan></text>
<line x1="380.70" y1="112.30" x2="430.50" y2="112.30" stroke="#111" stroke-width="1.1"/>
<path d="M429.6,109.8 L434.7,112.3 L429.6,114.8 Z" fill="#111"/>
<text x="407.70" y="123.70" font-size="9.4" text-anchor="middle" textLength="39.00" lengthAdjust="spacingAndGlyphs" style="stroke-width:0.25px">BODIPY C11</text>
<text x="376.30" y="63.00" font-size="9.8" text-anchor="middle" textLength="19.80" lengthAdjust="spacingAndGlyphs" transform="rotate(-90 376.30 63.00)" style="stroke-width:0.2px">Count</text>
<text x="283.10" y="55.70" font-size="7" text-anchor="start" textLength="17.10" lengthAdjust="spacingAndGlyphs">iFSP1</text>
<text x="283.10" y="66.10" font-size="7" text-anchor="start" textLength="23.60" lengthAdjust="spacingAndGlyphs">Solvent</text>
<text x="283.10" y="78.00" font-size="7" text-anchor="start" textLength="17.10" lengthAdjust="spacingAndGlyphs">iFSP1</text>
<text x="283.10" y="89.30" font-size="7" text-anchor="start" textLength="23.60" lengthAdjust="spacingAndGlyphs">Solvent</text>
<line x1="310.20" y1="51.00" x2="310.20" y2="67.30" stroke="#222" stroke-width="1"/>
<line x1="310.20" y1="74.20" x2="310.20" y2="90.40" stroke="#222" stroke-width="1"/>
<text x="313.50" y="62.90" font-size="7" text-anchor="start" textLength="15.00" lengthAdjust="spacingAndGlyphs">DMF</text>
<text x="313.50" y="84.80" font-size="7" text-anchor="start" textLength="24.20" lengthAdjust="spacingAndGlyphs">Solvent</text>
<text x="439.50" y="55.50" font-size="7" text-anchor="start" textLength="35.80" lengthAdjust="spacingAndGlyphs">shAIFM2#2</text>
<text x="439.50" y="67.20" font-size="7" text-anchor="start" textLength="31.00" lengthAdjust="spacingAndGlyphs">shRNA co</text>
<text x="439.50" y="78.80" font-size="7" text-anchor="start" textLength="35.80" lengthAdjust="spacingAndGlyphs">shAIFM2#2</text>
<text x="439.50" y="90.10" font-size="7" text-anchor="start" textLength="31.00" lengthAdjust="spacingAndGlyphs">shRNA co</text>
<line x1="478.80" y1="52.50" x2="478.80" y2="67.70" stroke="#222" stroke-width="1"/>
<line x1="478.80" y1="75.50" x2="478.80" y2="90.20" stroke="#222" stroke-width="1"/>
<text x="481.80" y="62.90" font-size="7" text-anchor="start" textLength="15.00" lengthAdjust="spacingAndGlyphs">DMF</text>
<text x="481.80" y="84.40" font-size="7" text-anchor="start" textLength="24.20" lengthAdjust="spacingAndGlyphs">Solvent</text>
<line x1="53.90" y1="229.10" x2="53.90" y2="156.80" stroke="#1a1a1a" stroke-width="1.25"/>
<line x1="50.90" y1="228.50" x2="53.90" y2="228.50" stroke="#1a1a1a" stroke-width="1.25"/>
<text x="46.90" y="230.60" font-size="7.5" text-anchor="end" textLength="13.40" lengthAdjust="spacingAndGlyphs">0.00</text>
<line x1="50.90" y1="214.93" x2="53.90" y2="214.93" stroke="#1a1a1a" stroke-width="1.25"/>
<text x="46.90" y="217.03" font-size="7.5" text-anchor="end" textLength="13.40" lengthAdjust="spacingAndGlyphs">0.25</text>
<line x1="50.90" y1="201.35" x2="53.90" y2="201.35" stroke="#1a1a1a" stroke-width="1.25"/>
<text x="46.90" y="203.45" font-size="7.5" text-anchor="end" textLength="13.40" lengthAdjust="spacingAndGlyphs">0.50</text>
<line x1="50.90" y1="187.78" x2="53.90" y2="187.78" stroke="#1a1a1a" stroke-width="1.25"/>
<text x="46.90" y="189.88" font-size="7.5" text-anchor="end" textLength="13.40" lengthAdjust="spacingAndGlyphs">0.75</text>
<line x1="50.90" y1="174.20" x2="53.90" y2="174.20" stroke="#1a1a1a" stroke-width="1.25"/>
<text x="46.90" y="176.30" font-size="7.5" text-anchor="end" textLength="12.60" lengthAdjust="spacingAndGlyphs">1.00</text>
<line x1="50.90" y1="160.62" x2="53.90" y2="160.62" stroke="#1a1a1a" stroke-width="1.25"/>
<text x="46.90" y="162.72" font-size="7.5" text-anchor="end" textLength="12.40" lengthAdjust="spacingAndGlyphs">1.25</text>
<text x="28.80" y="194.00" font-size="9" text-anchor="middle" textLength="73.00" lengthAdjust="spacingAndGlyphs" transform="rotate(-90 28.80 194.00)">Normalized cell count</text>
<line x1="53.30" y1="228.50" x2="97.10" y2="228.50" stroke="#1a1a1a" stroke-width="1.25"/>
<line x1="53.90" y1="228.50" x2="53.90" y2="231.50" stroke="#1a1a1a" stroke-width="1.25"/>
<text x="53.90" y="241.80" font-size="7.5" text-anchor="middle" textLength="3.60" lengthAdjust="spacingAndGlyphs">0</text>
<line x1="61.98" y1="228.50" x2="61.98" y2="231.50" stroke="#1a1a1a" stroke-width="1.25"/>
<text x="61.98" y="241.80" font-size="7.5" text-anchor="middle" textLength="3.60" lengthAdjust="spacingAndGlyphs">2</text>
<line x1="70.06" y1="228.50" x2="70.06" y2="231.50" stroke="#1a1a1a" stroke-width="1.25"/>
<text x="70.06" y="241.80" font-size="7.5" text-anchor="middle" textLength="3.60" lengthAdjust="spacingAndGlyphs">4</text>
<line x1="78.14" y1="228.50" x2="78.14" y2="231.50" stroke="#1a1a1a" stroke-width="1.25"/>
<text x="78.14" y="241.80" font-size="7.5" text-anchor="middle" textLength="3.60" lengthAdjust="spacingAndGlyphs">6</text>
<line x1="86.22" y1="228.50" x2="86.22" y2="231.50" stroke="#1a1a1a" stroke-width="1.25"/>
<text x="86.22" y="241.80" font-size="7.5" text-anchor="middle" textLength="3.60" lengthAdjust="spacingAndGlyphs">8</text>
<line x1="94.30" y1="228.50" x2="94.30" y2="231.50" stroke="#1a1a1a" stroke-width="1.25"/>
<text x="94.30" y="241.80" font-size="7.5" text-anchor="middle" textLength="7.20" lengthAdjust="spacingAndGlyphs">10</text>
<text x="75.50" y="254.40" font-size="8.8" text-anchor="middle" textLength="33.50" lengthAdjust="spacingAndGlyphs">DMF [µM]</text>
<text x="75.45" y="152.10" font-size="6.9" text-anchor="middle" textLength="30.90" lengthAdjust="spacingAndGlyphs">SU-DHL-6</text>
<polyline points="53.90,174.20 74.10,177.46 84.20,185.60 94.30,191.58" fill="none" stroke="#363d4a" stroke-width="0.95" stroke-linejoin="round"/>
<line x1="74.10" y1="176.37" x2="74.10" y2="178.54" stroke="#363d4a" stroke-width="0.8"/>
<line x1="72.80" y1="176.37" x2="75.40" y2="176.37" stroke="#363d4a" stroke-width="0.8"/>
<line x1="72.80" y1="178.54" x2="75.40" y2="178.54" stroke="#363d4a" stroke-width="0.8"/>
<line x1="84.20" y1="182.34" x2="84.20" y2="188.86" stroke="#363d4a" stroke-width="0.8"/>
<line x1="82.90" y1="182.34" x2="85.50" y2="182.34" stroke="#363d4a" stroke-width="0.8"/>
<line x1="82.90" y1="188.86" x2="85.50" y2="188.86" stroke="#363d4a" stroke-width="0.8"/>
<line x1="94.30" y1="189.40" x2="94.30" y2="193.75" stroke="#363d4a" stroke-width="0.8"/>
<line x1="93.00" y1="189.40" x2="95.60" y2="189.40" stroke="#363d4a" stroke-width="0.8"/>
<line x1="93.00" y1="193.75" x2="95.60" y2="193.75" stroke="#363d4a" stroke-width="0.8"/>
<circle cx="53.90" cy="174.20" r="1.4" fill="#363d4a"/>
<circle cx="74.10" cy="177.46" r="1.4" fill="#363d4a"/>
<circle cx="84.20" cy="185.60" r="1.4" fill="#363d4a"/>
<circle cx="94.30" cy="191.58" r="1.4" fill="#363d4a"/>
<line x1="149.40" y1="229.30" x2="149.40" y2="156.80" stroke="#1a1a1a" stroke-width="1.25"/>
<line x1="146.40" y1="228.70" x2="149.40" y2="228.70" stroke="#1a1a1a" stroke-width="1.25"/>
<text x="142.40" y="230.80" font-size="7.5" text-anchor="end" textLength="13.40" lengthAdjust="spacingAndGlyphs">0.00</text>
<line x1="146.40" y1="215.12" x2="149.40" y2="215.12" stroke="#1a1a1a" stroke-width="1.25"/>
<text x="142.40" y="217.22" font-size="7.5" text-anchor="end" textLength="13.40" lengthAdjust="spacingAndGlyphs">0.25</text>
<line x1="146.40" y1="201.55" x2="149.40" y2="201.55" stroke="#1a1a1a" stroke-width="1.25"/>
<text x="142.40" y="203.65" font-size="7.5" text-anchor="end" textLength="13.40" lengthAdjust="spacingAndGlyphs">0.50</text>
<line x1="146.40" y1="187.97" x2="149.40" y2="187.97" stroke="#1a1a1a" stroke-width="1.25"/>
<text x="142.40" y="190.07" font-size="7.5" text-anchor="end" textLength="13.40" lengthAdjust="spacingAndGlyphs">0.75</text>
<line x1="146.40" y1="174.40" x2="149.40" y2="174.40" stroke="#1a1a1a" stroke-width="1.25"/>
<text x="142.40" y="176.50" font-size="7.5" text-anchor="end" textLength="12.60" lengthAdjust="spacingAndGlyphs">1.00</text>
<line x1="146.40" y1="160.82" x2="149.40" y2="160.82" stroke="#1a1a1a" stroke-width="1.25"/>
<text x="142.40" y="162.92" font-size="7.5" text-anchor="end" textLength="12.40" lengthAdjust="spacingAndGlyphs">1.25</text>
<text x="124.00" y="194.00" font-size="9" text-anchor="middle" textLength="73.00" lengthAdjust="spacingAndGlyphs" transform="rotate(-90 124.00 194.00)">Normalized cell count</text>
<line x1="148.80" y1="228.70" x2="255.40" y2="228.70" stroke="#1a1a1a" stroke-width="1.25"/>
<line x1="149.40" y1="228.70" x2="149.40" y2="231.70" stroke="#1a1a1a" stroke-width="1.25"/>
<text x="149.40" y="242.00" font-size="7.5" text-anchor="middle" textLength="9.50" lengthAdjust="spacingAndGlyphs">0.0</text>
<line x1="169.93" y1="228.70" x2="169.93" y2="231.70" stroke="#1a1a1a" stroke-width="1.25"/>
<text x="169.93" y="242.00" font-size="7.5" text-anchor="middle" textLength="9.50" lengthAdjust="spacingAndGlyphs">0.5</text>
<line x1="190.45" y1="228.70" x2="190.45" y2="231.70" stroke="#1a1a1a" stroke-width="1.25"/>
<text x="190.45" y="242.00" font-size="7.5" text-anchor="middle" textLength="9.50" lengthAdjust="spacingAndGlyphs">1.0</text>
<line x1="210.97" y1="228.70" x2="210.97" y2="231.70" stroke="#1a1a1a" stroke-width="1.25"/>
<text x="210.97" y="242.00" font-size="7.5" text-anchor="middle" textLength="9.50" lengthAdjust="spacingAndGlyphs">1.5</text>
<line x1="231.50" y1="228.70" x2="231.50" y2="231.70" stroke="#1a1a1a" stroke-width="1.25"/>
<text x="231.50" y="242.00" font-size="7.5" text-anchor="middle" textLength="9.50" lengthAdjust="spacingAndGlyphs">2.0</text>
<line x1="252.03" y1="228.70" x2="252.03" y2="231.70" stroke="#1a1a1a" stroke-width="1.25"/>
<text x="252.03" y="242.00" font-size="7.5" text-anchor="middle" textLength="9.50" lengthAdjust="spacingAndGlyphs">2.5</text>
<text x="202.20" y="255.00" font-size="8.8" text-anchor="middle" textLength="37.20" lengthAdjust="spacingAndGlyphs">iFSP1 [µM]</text>
<text x="202.40" y="152.50" font-size="6.9" text-anchor="middle" textLength="31.40" lengthAdjust="spacingAndGlyphs">SU-DHL-6</text>
<polyline points="149.40,174.40 153.50,175.49 159.66,186.35 169.93,190.69 190.45,210.78 252.03,217.84" fill="none" stroke="#b0183c" stroke-width="0.95" stroke-linejoin="round"/>
<line x1="149.40" y1="173.31" x2="149.40" y2="175.49" stroke="#b0183c" stroke-width="0.8"/>
<line x1="148.10" y1="173.31" x2="150.70" y2="173.31" stroke="#b0183c" stroke-width="0.8"/>
<line x1="148.10" y1="175.49" x2="150.70" y2="175.49" stroke="#b0183c" stroke-width="0.8"/>
<line x1="153.50" y1="173.86" x2="153.50" y2="177.11" stroke="#b0183c" stroke-width="0.8"/>
<line x1="152.20" y1="173.86" x2="154.81" y2="173.86" stroke="#b0183c" stroke-width="0.8"/>
<line x1="152.20" y1="177.11" x2="154.81" y2="177.11" stroke="#b0183c" stroke-width="0.8"/>
<line x1="159.66" y1="185.26" x2="159.66" y2="187.43" stroke="#b0183c" stroke-width="0.8"/>
<line x1="158.36" y1="185.26" x2="160.96" y2="185.26" stroke="#b0183c" stroke-width="0.8"/>
<line x1="158.36" y1="187.43" x2="160.96" y2="187.43" stroke="#b0183c" stroke-width="0.8"/>
<line x1="169.93" y1="188.52" x2="169.93" y2="192.86" stroke="#b0183c" stroke-width="0.8"/>
<line x1="168.62" y1="188.52" x2="171.23" y2="188.52" stroke="#b0183c" stroke-width="0.8"/>
<line x1="168.62" y1="192.86" x2="171.23" y2="192.86" stroke="#b0183c" stroke-width="0.8"/>
<line x1="190.45" y1="209.69" x2="190.45" y2="211.87" stroke="#b0183c" stroke-width="0.8"/>
<line x1="189.15" y1="209.69" x2="191.75" y2="209.69" stroke="#b0183c" stroke-width="0.8"/>
<line x1="189.15" y1="211.87" x2="191.75" y2="211.87" stroke="#b0183c" stroke-width="0.8"/>
<line x1="252.03" y1="216.75" x2="252.03" y2="218.93" stroke="#b0183c" stroke-width="0.8"/>
<line x1="250.72" y1="216.75" x2="253.33" y2="216.75" stroke="#b0183c" stroke-width="0.8"/>
<line x1="250.72" y1="218.93" x2="253.33" y2="218.93" stroke="#b0183c" stroke-width="0.8"/>
<rect x="147.90" y="172.90" width="3.00" height="3.00" fill="#b0183c" stroke="none" stroke-width="0"/>
<rect x="152.00" y="173.99" width="3.00" height="3.00" fill="#b0183c" stroke="none" stroke-width="0"/>
<rect x="158.16" y="184.85" width="3.00" height="3.00" fill="#b0183c" stroke="none" stroke-width="0"/>
<rect x="168.43" y="189.19" width="3.00" height="3.00" fill="#b0183c" stroke="none" stroke-width="0"/>
<rect x="188.95" y="209.28" width="3.00" height="3.00" fill="#b0183c" stroke="none" stroke-width="0"/>
<rect x="250.53" y="216.34" width="3.00" height="3.00" fill="#b0183c" stroke="none" stroke-width="0"/>
<polyline points="149.40,174.40 153.50,181.46 159.66,192.86 169.93,206.44 190.45,219.47 252.03,223.27" fill="none" stroke="#33567f" stroke-width="0.95" stroke-linejoin="round"/>
<line x1="149.40" y1="173.31" x2="149.40" y2="175.49" stroke="#33567f" stroke-width="0.8"/>
<line x1="148.10" y1="173.31" x2="150.70" y2="173.31" stroke="#33567f" stroke-width="0.8"/>
<line x1="148.10" y1="175.49" x2="150.70" y2="175.49" stroke="#33567f" stroke-width="0.8"/>
<line x1="153.50" y1="179.83" x2="153.50" y2="183.09" stroke="#33567f" stroke-width="0.8"/>
<line x1="152.20" y1="179.83" x2="154.81" y2="179.83" stroke="#33567f" stroke-width="0.8"/>
<line x1="152.20" y1="183.09" x2="154.81" y2="183.09" stroke="#33567f" stroke-width="0.8"/>
<line x1="159.66" y1="191.78" x2="159.66" y2="193.95" stroke="#33567f" stroke-width="0.8"/>
<line x1="158.36" y1="191.78" x2="160.96" y2="191.78" stroke="#33567f" stroke-width="0.8"/>
<line x1="158.36" y1="193.95" x2="160.96" y2="193.95" stroke="#33567f" stroke-width="0.8"/>
<line x1="169.93" y1="204.81" x2="169.93" y2="208.07" stroke="#33567f" stroke-width="0.8"/>
<line x1="168.62" y1="204.81" x2="171.23" y2="204.81" stroke="#33567f" stroke-width="0.8"/>
<line x1="168.62" y1="208.07" x2="171.23" y2="208.07" stroke="#33567f" stroke-width="0.8"/>
<line x1="190.45" y1="218.93" x2="190.45" y2="220.01" stroke="#33567f" stroke-width="0.8"/>
<line x1="189.15" y1="218.93" x2="191.75" y2="218.93" stroke="#33567f" stroke-width="0.8"/>
<line x1="189.15" y1="220.01" x2="191.75" y2="220.01" stroke="#33567f" stroke-width="0.8"/>
<line x1="252.03" y1="222.73" x2="252.03" y2="223.81" stroke="#33567f" stroke-width="0.8"/>
<line x1="250.72" y1="222.73" x2="253.33" y2="222.73" stroke="#33567f" stroke-width="0.8"/>
<line x1="250.72" y1="223.81" x2="253.33" y2="223.81" stroke="#33567f" stroke-width="0.8"/>
<circle cx="149.40" cy="174.40" r="1.4" fill="#33567f"/>
<circle cx="153.50" cy="181.46" r="1.4" fill="#33567f"/>
<circle cx="159.66" cy="192.86" r="1.4" fill="#33567f"/>
<circle cx="169.93" cy="206.44" r="1.4" fill="#33567f"/>
<circle cx="190.45" cy="219.47" r="1.4" fill="#33567f"/>
<circle cx="252.03" cy="223.27" r="1.4" fill="#33567f"/>
<polyline points="149.40,177.12 153.50,187.97 159.66,203.72 169.93,215.12 190.45,220.01 252.03,221.64" fill="none" stroke="#55a05a" stroke-width="0.95" stroke-linejoin="round"/>
<line x1="149.40" y1="175.49" x2="149.40" y2="178.74" stroke="#55a05a" stroke-width="0.8"/>
<line x1="148.10" y1="175.49" x2="150.70" y2="175.49" stroke="#55a05a" stroke-width="0.8"/>
<line x1="148.10" y1="178.74" x2="150.70" y2="178.74" stroke="#55a05a" stroke-width="0.8"/>
<line x1="153.50" y1="185.80" x2="153.50" y2="190.15" stroke="#55a05a" stroke-width="0.8"/>
<line x1="152.20" y1="185.80" x2="154.81" y2="185.80" stroke="#55a05a" stroke-width="0.8"/>
<line x1="152.20" y1="190.15" x2="154.81" y2="190.15" stroke="#55a05a" stroke-width="0.8"/>
<line x1="159.66" y1="201.01" x2="159.66" y2="206.44" stroke="#55a05a" stroke-width="0.8"/>
<line x1="158.36" y1="201.01" x2="160.96" y2="201.01" stroke="#55a05a" stroke-width="0.8"/>
<line x1="158.36" y1="206.44" x2="160.96" y2="206.44" stroke="#55a05a" stroke-width="0.8"/>
<line x1="169.93" y1="214.04" x2="169.93" y2="216.21" stroke="#55a05a" stroke-width="0.8"/>
<line x1="168.62" y1="214.04" x2="171.23" y2="214.04" stroke="#55a05a" stroke-width="0.8"/>
<line x1="168.62" y1="216.21" x2="171.23" y2="216.21" stroke="#55a05a" stroke-width="0.8"/>
<line x1="190.45" y1="219.47" x2="190.45" y2="220.56" stroke="#55a05a" stroke-width="0.8"/>
<line x1="189.15" y1="219.47" x2="191.75" y2="219.47" stroke="#55a05a" stroke-width="0.8"/>
<line x1="189.15" y1="220.56" x2="191.75" y2="220.56" stroke="#55a05a" stroke-width="0.8"/>
<line x1="252.03" y1="221.10" x2="252.03" y2="222.18" stroke="#55a05a" stroke-width="0.8"/>
<line x1="250.72" y1="221.10" x2="253.33" y2="221.10" stroke="#55a05a" stroke-width="0.8"/>
<line x1="250.72" y1="222.18" x2="253.33" y2="222.18" stroke="#55a05a" stroke-width="0.8"/>
<circle cx="149.40" cy="177.12" r="1.4" fill="#55a05a"/>
<circle cx="153.50" cy="187.97" r="1.4" fill="#55a05a"/>
<circle cx="159.66" cy="203.72" r="1.4" fill="#55a05a"/>
<circle cx="169.93" cy="215.12" r="1.4" fill="#55a05a"/>
<circle cx="190.45" cy="220.01" r="1.4" fill="#55a05a"/>
<circle cx="252.03" cy="221.64" r="1.4" fill="#55a05a"/>
<polyline points="149.40,171.69 153.50,173.31 159.66,174.40 169.93,176.03 190.45,187.97 252.03,193.40" fill="none" stroke="#363d4a" stroke-width="0.95" stroke-linejoin="round"/>
<line x1="149.40" y1="170.06" x2="149.40" y2="173.31" stroke="#363d4a" stroke-width="0.8"/>
<line x1="148.10" y1="170.06" x2="150.70" y2="170.06" stroke="#363d4a" stroke-width="0.8"/>
<line x1="148.10" y1="173.31" x2="150.70" y2="173.31" stroke="#363d4a" stroke-width="0.8"/>
<line x1="153.50" y1="170.60" x2="153.50" y2="176.03" stroke="#363d4a" stroke-width="0.8"/>
<line x1="152.20" y1="170.60" x2="154.81" y2="170.60" stroke="#363d4a" stroke-width="0.8"/>
<line x1="152.20" y1="176.03" x2="154.81" y2="176.03" stroke="#363d4a" stroke-width="0.8"/>
<line x1="169.93" y1="174.94" x2="169.93" y2="177.12" stroke="#363d4a" stroke-width="0.8"/>
<line x1="168.62" y1="174.94" x2="171.23" y2="174.94" stroke="#363d4a" stroke-width="0.8"/>
<line x1="168.62" y1="177.12" x2="171.23" y2="177.12" stroke="#363d4a" stroke-width="0.8"/>
<line x1="190.45" y1="187.43" x2="190.45" y2="188.52" stroke="#363d4a" stroke-width="0.8"/>
<line x1="189.15" y1="187.43" x2="191.75" y2="187.43" stroke="#363d4a" stroke-width="0.8"/>
<line x1="189.15" y1="188.52" x2="191.75" y2="188.52" stroke="#363d4a" stroke-width="0.8"/>
<line x1="252.03" y1="191.23" x2="252.03" y2="195.58" stroke="#363d4a" stroke-width="0.8"/>
<line x1="250.72" y1="191.23" x2="253.33" y2="191.23" stroke="#363d4a" stroke-width="0.8"/>
<line x1="250.72" y1="195.58" x2="253.33" y2="195.58" stroke="#363d4a" stroke-width="0.8"/>
<circle cx="149.40" cy="171.69" r="1.4" fill="#363d4a"/>
<circle cx="153.50" cy="173.31" r="1.4" fill="#363d4a"/>
<circle cx="159.66" cy="174.40" r="1.4" fill="#363d4a"/>
<circle cx="169.93" cy="176.03" r="1.4" fill="#363d4a"/>
<circle cx="190.45" cy="187.97" r="1.4" fill="#363d4a"/>
<circle cx="252.03" cy="193.40" r="1.4" fill="#363d4a"/>
<line x1="206.20" y1="161.00" x2="213.40" y2="161.00" stroke="#363d4a" stroke-width="1"/>
<circle cx="209.80" cy="161.00" r="1.3" fill="#363d4a"/>
<text x="217.70" y="163.50" font-size="7" text-anchor="start" textLength="21.00" lengthAdjust="spacingAndGlyphs">Solvent</text>
<line x1="206.20" y1="168.50" x2="213.40" y2="168.50" stroke="#b0183c" stroke-width="1"/>
<rect x="208.30" y="167.00" width="3.00" height="3.00" fill="#b0183c" stroke="none" stroke-width="0"/>
<text x="217.70" y="171.00" font-size="7" text-anchor="start" textLength="29.80" lengthAdjust="spacingAndGlyphs">5 µM DMF</text>
<line x1="206.20" y1="176.10" x2="213.40" y2="176.10" stroke="#33567f" stroke-width="1"/>
<circle cx="209.80" cy="176.10" r="1.3" fill="#33567f"/>
<text x="217.70" y="178.60" font-size="7" text-anchor="start" textLength="36.50" lengthAdjust="spacingAndGlyphs">7.5 µM DMF</text>
<line x1="206.20" y1="183.70" x2="213.40" y2="183.70" stroke="#55a05a" stroke-width="1"/>
<circle cx="209.80" cy="183.70" r="1.3" fill="#55a05a"/>
<text x="217.70" y="186.20" font-size="7" text-anchor="start" textLength="35.00" lengthAdjust="spacingAndGlyphs">10 µM DMF</text>
<text x="251.50" y="218.00" font-size="7" text-anchor="middle" textLength="8.00" lengthAdjust="spacingAndGlyphs">***</text>
<line x1="344.60" y1="229.20" x2="344.60" y2="158.50" stroke="#1a1a1a" stroke-width="1.25"/>
<line x1="341.60" y1="228.60" x2="344.60" y2="228.60" stroke="#1a1a1a" stroke-width="1.25"/>
<text x="338.20" y="230.90" font-size="7.5" text-anchor="end" textLength="3.90" lengthAdjust="spacingAndGlyphs">0</text>
<line x1="341.60" y1="211.50" x2="344.60" y2="211.50" stroke="#1a1a1a" stroke-width="1.25"/>
<text x="338.20" y="213.80" font-size="7.5" text-anchor="end" textLength="8.00" lengthAdjust="spacingAndGlyphs">10</text>
<line x1="341.60" y1="194.40" x2="344.60" y2="194.40" stroke="#1a1a1a" stroke-width="1.25"/>
<text x="338.20" y="196.70" font-size="7.5" text-anchor="end" textLength="8.00" lengthAdjust="spacingAndGlyphs">20</text>
<line x1="341.60" y1="177.30" x2="344.60" y2="177.30" stroke="#1a1a1a" stroke-width="1.25"/>
<text x="338.20" y="179.60" font-size="7.5" text-anchor="end" textLength="8.00" lengthAdjust="spacingAndGlyphs">30</text>
<line x1="341.60" y1="160.20" x2="344.60" y2="160.20" stroke="#1a1a1a" stroke-width="1.25"/>
<text x="338.20" y="162.50" font-size="7.5" text-anchor="end" textLength="8.00" lengthAdjust="spacingAndGlyphs">40</text>
<text x="324.80" y="195.20" font-size="9" text-anchor="middle" textLength="71.50" lengthAdjust="spacingAndGlyphs" transform="rotate(-90 324.80 195.20)">Norm. BODIPY C11 MFI</text>
<line x1="344.00" y1="228.60" x2="446.50" y2="228.60" stroke="#1a1a1a" stroke-width="1.25"/>
<rect x="346.50" y="227.40" width="4.50" height="1.20" fill="#435366" stroke="none" stroke-width="0"/>
<line x1="348.75" y1="227.40" x2="348.75" y2="227.23" stroke="#435366" stroke-width="0.8"/>
<line x1="347.55" y1="227.23" x2="349.95" y2="227.23" stroke="#435366" stroke-width="0.8"/>
<rect x="351.00" y="225.86" width="4.50" height="2.74" fill="#c8102e" stroke="none" stroke-width="0"/>
<line x1="353.25" y1="225.86" x2="353.25" y2="225.52" stroke="#c8102e" stroke-width="0.8"/>
<line x1="352.05" y1="225.52" x2="354.45" y2="225.52" stroke="#c8102e" stroke-width="0.8"/>
<rect x="355.50" y="222.44" width="4.50" height="6.16" fill="#1f4f98" stroke="none" stroke-width="0"/>
<line x1="357.75" y1="222.44" x2="357.75" y2="221.76" stroke="#1f4f98" stroke-width="0.8"/>
<line x1="356.55" y1="221.76" x2="358.95" y2="221.76" stroke="#1f4f98" stroke-width="0.8"/>
<rect x="360.00" y="217.14" width="4.50" height="11.46" fill="#45a848" stroke="none" stroke-width="0"/>
<line x1="362.25" y1="217.14" x2="362.25" y2="216.63" stroke="#45a848" stroke-width="0.8"/>
<line x1="361.05" y1="216.63" x2="363.45" y2="216.63" stroke="#45a848" stroke-width="0.8"/>
<rect x="364.50" y="212.01" width="4.50" height="16.59" fill="#55297f" stroke="none" stroke-width="0"/>
<line x1="366.75" y1="212.01" x2="366.75" y2="211.67" stroke="#55297f" stroke-width="0.8"/>
<line x1="365.55" y1="211.67" x2="367.95" y2="211.67" stroke="#55297f" stroke-width="0.8"/>
<line x1="357.75" y1="228.60" x2="357.75" y2="231.40" stroke="#1a1a1a" stroke-width="1"/>
<rect x="371.40" y="226.21" width="4.50" height="2.39" fill="#435366" stroke="none" stroke-width="0"/>
<line x1="373.65" y1="226.21" x2="373.65" y2="225.86" stroke="#435366" stroke-width="0.8"/>
<line x1="372.45" y1="225.86" x2="374.85" y2="225.86" stroke="#435366" stroke-width="0.8"/>
<rect x="375.90" y="209.96" width="4.50" height="18.64" fill="#c8102e" stroke="none" stroke-width="0"/>
<line x1="378.15" y1="209.96" x2="378.15" y2="208.94" stroke="#c8102e" stroke-width="0.8"/>
<line x1="376.95" y1="208.94" x2="379.35" y2="208.94" stroke="#c8102e" stroke-width="0.8"/>
<rect x="380.40" y="198.85" width="4.50" height="29.75" fill="#1f4f98" stroke="none" stroke-width="0"/>
<line x1="382.65" y1="198.85" x2="382.65" y2="196.62" stroke="#1f4f98" stroke-width="0.8"/>
<line x1="381.45" y1="196.62" x2="383.85" y2="196.62" stroke="#1f4f98" stroke-width="0.8"/>
<rect x="384.90" y="182.77" width="4.50" height="45.83" fill="#45a848" stroke="none" stroke-width="0"/>
<line x1="387.15" y1="182.77" x2="387.15" y2="178.33" stroke="#45a848" stroke-width="0.8"/>
<line x1="385.95" y1="178.33" x2="388.35" y2="178.33" stroke="#45a848" stroke-width="0.8"/>
<rect x="389.40" y="178.67" width="4.50" height="49.93" fill="#55297f" stroke="none" stroke-width="0"/>
<line x1="391.65" y1="178.67" x2="391.65" y2="175.93" stroke="#55297f" stroke-width="0.8"/>
<line x1="390.45" y1="175.93" x2="392.85" y2="175.93" stroke="#55297f" stroke-width="0.8"/>
<line x1="382.65" y1="228.60" x2="382.65" y2="231.40" stroke="#1a1a1a" stroke-width="1"/>
<rect x="396.60" y="227.23" width="4.50" height="1.37" fill="#435366" stroke="none" stroke-width="0"/>
<line x1="398.85" y1="227.23" x2="398.85" y2="227.06" stroke="#435366" stroke-width="0.8"/>
<line x1="397.65" y1="227.06" x2="400.05" y2="227.06" stroke="#435366" stroke-width="0.8"/>
<rect x="401.10" y="227.23" width="4.50" height="1.37" fill="#c8102e" stroke="none" stroke-width="0"/>
<line x1="403.35" y1="227.23" x2="403.35" y2="227.06" stroke="#c8102e" stroke-width="0.8"/>
<line x1="402.15" y1="227.06" x2="404.55" y2="227.06" stroke="#c8102e" stroke-width="0.8"/>
<rect x="405.60" y="226.38" width="4.50" height="2.22" fill="#1f4f98" stroke="none" stroke-width="0"/>
<line x1="407.85" y1="226.38" x2="407.85" y2="226.03" stroke="#1f4f98" stroke-width="0.8"/>
<line x1="406.65" y1="226.03" x2="409.05" y2="226.03" stroke="#1f4f98" stroke-width="0.8"/>
<rect x="410.10" y="224.67" width="4.50" height="3.93" fill="#45a848" stroke="none" stroke-width="0"/>
<line x1="412.35" y1="224.67" x2="412.35" y2="224.32" stroke="#45a848" stroke-width="0.8"/>
<line x1="411.15" y1="224.32" x2="413.55" y2="224.32" stroke="#45a848" stroke-width="0.8"/>
<rect x="414.60" y="223.47" width="4.50" height="5.13" fill="#55297f" stroke="none" stroke-width="0"/>
<line x1="416.85" y1="223.47" x2="416.85" y2="222.96" stroke="#55297f" stroke-width="0.8"/>
<line x1="415.65" y1="222.96" x2="418.05" y2="222.96" stroke="#55297f" stroke-width="0.8"/>
<line x1="407.85" y1="228.60" x2="407.85" y2="231.40" stroke="#1a1a1a" stroke-width="1"/>
<rect x="421.40" y="227.57" width="4.50" height="1.03" fill="#435366" stroke="none" stroke-width="0"/>
<line x1="423.65" y1="227.57" x2="423.65" y2="227.40" stroke="#435366" stroke-width="0.8"/>
<line x1="422.45" y1="227.40" x2="424.85" y2="227.40" stroke="#435366" stroke-width="0.8"/>
<rect x="425.90" y="223.81" width="4.50" height="4.79" fill="#c8102e" stroke="none" stroke-width="0"/>
<line x1="428.15" y1="223.81" x2="428.15" y2="222.62" stroke="#c8102e" stroke-width="0.8"/>
<line x1="426.95" y1="222.62" x2="429.35" y2="222.62" stroke="#c8102e" stroke-width="0.8"/>
<rect x="430.40" y="221.08" width="4.50" height="7.52" fill="#1f4f98" stroke="none" stroke-width="0"/>
<line x1="432.65" y1="221.08" x2="432.65" y2="219.37" stroke="#1f4f98" stroke-width="0.8"/>
<line x1="431.45" y1="219.37" x2="433.85" y2="219.37" stroke="#1f4f98" stroke-width="0.8"/>
<rect x="434.90" y="220.22" width="4.50" height="8.38" fill="#45a848" stroke="none" stroke-width="0"/>
<line x1="437.15" y1="220.22" x2="437.15" y2="219.37" stroke="#45a848" stroke-width="0.8"/>
<line x1="435.95" y1="219.37" x2="438.35" y2="219.37" stroke="#45a848" stroke-width="0.8"/>
<rect x="439.40" y="219.19" width="4.50" height="9.40" fill="#55297f" stroke="none" stroke-width="0"/>
<line x1="441.65" y1="219.19" x2="441.65" y2="218.34" stroke="#55297f" stroke-width="0.8"/>
<line x1="440.45" y1="218.34" x2="442.85" y2="218.34" stroke="#55297f" stroke-width="0.8"/>
<line x1="432.65" y1="228.60" x2="432.65" y2="231.40" stroke="#1a1a1a" stroke-width="1"/>
<text x="357.00" y="242.00" font-size="7" text-anchor="middle" textLength="22.80" lengthAdjust="spacingAndGlyphs">Solvent</text>
<text x="382.10" y="242.00" font-size="7" text-anchor="middle" textLength="11.40" lengthAdjust="spacingAndGlyphs">JQ1</text>
<text x="407.40" y="242.00" font-size="7" text-anchor="middle" textLength="23.50" lengthAdjust="spacingAndGlyphs">Solvent</text>
<text x="433.80" y="242.00" font-size="7" text-anchor="middle" textLength="12.50" lengthAdjust="spacingAndGlyphs">JQ1</text>
<line x1="348.00" y1="244.30" x2="391.30" y2="244.30" stroke="#1a1a1a" stroke-width="1"/>
<line x1="399.20" y1="244.30" x2="442.80" y2="244.30" stroke="#1a1a1a" stroke-width="1"/>
<text x="369.60" y="253.40" font-size="7.5" text-anchor="middle" textLength="20.50" lengthAdjust="spacingAndGlyphs">Empty</text>
<text x="421.00" y="253.40" font-size="7.5" text-anchor="middle" textLength="36.50" lengthAdjust="spacingAndGlyphs">FSP1-FLAG</text>
<line x1="366.20" y1="167.80" x2="417.20" y2="167.80" stroke="#1a1a1a" stroke-width="1"/>
<line x1="392.30" y1="158.20" x2="442.40" y2="158.20" stroke="#1a1a1a" stroke-width="1"/>
<text x="392.00" y="169.00" font-size="6.5" text-anchor="middle" textLength="5.00" lengthAdjust="spacingAndGlyphs">**</text>
<text x="417.30" y="160.00" font-size="6.5" text-anchor="middle" textLength="7.50" lengthAdjust="spacingAndGlyphs">***</text>
<rect x="452.20" y="164.20" width="7.00" height="5.20" fill="#435366" stroke="none" stroke-width="0"/>
<text x="462.90" y="169.30" font-size="7" text-anchor="start" textLength="23.50" lengthAdjust="spacingAndGlyphs">Solvent</text>
<rect x="452.20" y="171.88" width="7.00" height="5.20" fill="#c8102e" stroke="none" stroke-width="0"/>
<text x="462.90" y="176.98" font-size="7" text-anchor="start" textLength="31.50" lengthAdjust="spacingAndGlyphs">5 µM DMF</text>
<rect x="452.20" y="179.56" width="7.00" height="5.20" fill="#1f4f98" stroke="none" stroke-width="0"/>
<text x="462.90" y="184.66" font-size="7" text-anchor="start" textLength="34.60" lengthAdjust="spacingAndGlyphs">10 µM DMF</text>
<rect x="452.20" y="187.24" width="7.00" height="5.20" fill="#45a848" stroke="none" stroke-width="0"/>
<text x="462.90" y="192.34" font-size="7" text-anchor="start" textLength="34.60" lengthAdjust="spacingAndGlyphs">20 µM DMF</text>
<rect x="452.20" y="194.92" width="7.00" height="5.20" fill="#55297f" stroke="none" stroke-width="0"/>
<text x="462.90" y="200.02" font-size="7" text-anchor="start" textLength="34.60" lengthAdjust="spacingAndGlyphs">40 µM DMF</text>
<line x1="54.10" y1="361.10" x2="54.10" y2="289.00" stroke="#1a1a1a" stroke-width="1.25"/>
<line x1="51.10" y1="360.50" x2="54.10" y2="360.50" stroke="#1a1a1a" stroke-width="1.25"/>
<text x="47.10" y="362.60" font-size="7.5" text-anchor="end" textLength="13.40" lengthAdjust="spacingAndGlyphs">0.00</text>
<line x1="51.10" y1="346.93" x2="54.10" y2="346.93" stroke="#1a1a1a" stroke-width="1.25"/>
<text x="47.10" y="349.03" font-size="7.5" text-anchor="end" textLength="13.40" lengthAdjust="spacingAndGlyphs">0.25</text>
<line x1="51.10" y1="333.35" x2="54.10" y2="333.35" stroke="#1a1a1a" stroke-width="1.25"/>
<text x="47.10" y="335.45" font-size="7.5" text-anchor="end" textLength="13.40" lengthAdjust="spacingAndGlyphs">0.50</text>
<line x1="51.10" y1="319.77" x2="54.10" y2="319.77" stroke="#1a1a1a" stroke-width="1.25"/>
<text x="47.10" y="321.88" font-size="7.5" text-anchor="end" textLength="13.40" lengthAdjust="spacingAndGlyphs">0.75</text>
<line x1="51.10" y1="306.20" x2="54.10" y2="306.20" stroke="#1a1a1a" stroke-width="1.25"/>
<text x="47.10" y="308.30" font-size="7.5" text-anchor="end" textLength="12.60" lengthAdjust="spacingAndGlyphs">1.00</text>
<line x1="51.10" y1="292.62" x2="54.10" y2="292.62" stroke="#1a1a1a" stroke-width="1.25"/>
<text x="47.10" y="294.73" font-size="7.5" text-anchor="end" textLength="12.40" lengthAdjust="spacingAndGlyphs">1.25</text>
<text x="28.80" y="326.25" font-size="9" text-anchor="middle" textLength="73.00" lengthAdjust="spacingAndGlyphs" transform="rotate(-90 28.80 326.25)">Normalized cell count</text>
<line x1="53.50" y1="360.50" x2="97.30" y2="360.50" stroke="#1a1a1a" stroke-width="1.25"/>
<line x1="54.10" y1="360.50" x2="54.10" y2="363.50" stroke="#1a1a1a" stroke-width="1.25"/>
<text x="54.10" y="373.30" font-size="7.5" text-anchor="middle" textLength="3.60" lengthAdjust="spacingAndGlyphs">0</text>
<line x1="64.12" y1="360.50" x2="64.12" y2="363.50" stroke="#1a1a1a" stroke-width="1.25"/>
<text x="64.12" y="373.30" font-size="7.5" text-anchor="middle" textLength="3.60" lengthAdjust="spacingAndGlyphs">5</text>
<line x1="74.15" y1="360.50" x2="74.15" y2="363.50" stroke="#1a1a1a" stroke-width="1.25"/>
<text x="74.15" y="373.30" font-size="7.5" text-anchor="middle" textLength="7.20" lengthAdjust="spacingAndGlyphs">10</text>
<line x1="84.17" y1="360.50" x2="84.17" y2="363.50" stroke="#1a1a1a" stroke-width="1.25"/>
<text x="84.17" y="373.30" font-size="7.5" text-anchor="middle" textLength="7.20" lengthAdjust="spacingAndGlyphs">15</text>
<line x1="94.20" y1="360.50" x2="94.20" y2="363.50" stroke="#1a1a1a" stroke-width="1.25"/>
<text x="94.20" y="373.30" font-size="7.5" text-anchor="middle" textLength="7.20" lengthAdjust="spacingAndGlyphs">20</text>
<text x="76.00" y="386.70" font-size="8.8" text-anchor="middle" textLength="33.80" lengthAdjust="spacingAndGlyphs">DMF [µM]</text>
<text x="75.90" y="284.00" font-size="6.9" text-anchor="middle" textLength="19.80" lengthAdjust="spacingAndGlyphs">Empty</text>
<polyline points="54.10,306.20 64.12,313.26 74.15,312.17 94.20,320.86" fill="none" stroke="#363d4a" stroke-width="0.95" stroke-linejoin="round"/>
<circle cx="54.10" cy="306.20" r="1.4" fill="#363d4a"/>
<circle cx="64.12" cy="313.26" r="1.4" fill="#363d4a"/>
<circle cx="74.15" cy="312.17" r="1.4" fill="#363d4a"/>
<circle cx="94.20" cy="320.86" r="1.4" fill="#363d4a"/>
<line x1="308.10" y1="361.10" x2="308.10" y2="289.00" stroke="#1a1a1a" stroke-width="1.25"/>
<line x1="305.10" y1="360.50" x2="308.10" y2="360.50" stroke="#1a1a1a" stroke-width="1.25"/>
<text x="301.10" y="362.60" font-size="7.5" text-anchor="end" textLength="13.40" lengthAdjust="spacingAndGlyphs">0.00</text>
<line x1="305.10" y1="346.93" x2="308.10" y2="346.93" stroke="#1a1a1a" stroke-width="1.25"/>
<text x="301.10" y="349.03" font-size="7.5" text-anchor="end" textLength="13.40" lengthAdjust="spacingAndGlyphs">0.25</text>
<line x1="305.10" y1="333.35" x2="308.10" y2="333.35" stroke="#1a1a1a" stroke-width="1.25"/>
<text x="301.10" y="335.45" font-size="7.5" text-anchor="end" textLength="13.40" lengthAdjust="spacingAndGlyphs">0.50</text>
<line x1="305.10" y1="319.77" x2="308.10" y2="319.77" stroke="#1a1a1a" stroke-width="1.25"/>
<text x="301.10" y="321.88" font-size="7.5" text-anchor="end" textLength="13.40" lengthAdjust="spacingAndGlyphs">0.75</text>
<line x1="305.10" y1="306.20" x2="308.10" y2="306.20" stroke="#1a1a1a" stroke-width="1.25"/>
<text x="301.10" y="308.30" font-size="7.5" text-anchor="end" textLength="12.60" lengthAdjust="spacingAndGlyphs">1.00</text>
<line x1="305.10" y1="292.62" x2="308.10" y2="292.62" stroke="#1a1a1a" stroke-width="1.25"/>
<text x="301.10" y="294.73" font-size="7.5" text-anchor="end" textLength="12.40" lengthAdjust="spacingAndGlyphs">1.25</text>
<text x="281.80" y="326.25" font-size="9" text-anchor="middle" textLength="73.00" lengthAdjust="spacingAndGlyphs" transform="rotate(-90 281.80 326.25)">Normalized cell count</text>
<line x1="307.50" y1="360.50" x2="351.00" y2="360.50" stroke="#1a1a1a" stroke-width="1.25"/>
<line x1="308.10" y1="360.50" x2="308.10" y2="363.50" stroke="#1a1a1a" stroke-width="1.25"/>
<text x="308.10" y="373.30" font-size="7.5" text-anchor="middle" textLength="3.60" lengthAdjust="spacingAndGlyphs">0</text>
<line x1="318.05" y1="360.50" x2="318.05" y2="363.50" stroke="#1a1a1a" stroke-width="1.25"/>
<text x="318.05" y="373.30" font-size="7.5" text-anchor="middle" textLength="3.60" lengthAdjust="spacingAndGlyphs">5</text>
<line x1="328.00" y1="360.50" x2="328.00" y2="363.50" stroke="#1a1a1a" stroke-width="1.25"/>
<text x="328.00" y="373.30" font-size="7.5" text-anchor="middle" textLength="7.20" lengthAdjust="spacingAndGlyphs">10</text>
<line x1="337.95" y1="360.50" x2="337.95" y2="363.50" stroke="#1a1a1a" stroke-width="1.25"/>
<text x="337.95" y="373.30" font-size="7.5" text-anchor="middle" textLength="7.20" lengthAdjust="spacingAndGlyphs">15</text>
<line x1="347.90" y1="360.50" x2="347.90" y2="363.50" stroke="#1a1a1a" stroke-width="1.25"/>
<text x="347.90" y="373.30" font-size="7.5" text-anchor="middle" textLength="7.20" lengthAdjust="spacingAndGlyphs">20</text>
<text x="330.10" y="387.30" font-size="8.8" text-anchor="middle" textLength="34.40" lengthAdjust="spacingAndGlyphs">DMF [µM]</text>
<text x="329.80" y="284.00" font-size="6.9" text-anchor="middle" textLength="36.10" lengthAdjust="spacingAndGlyphs">FSP1-FLAG</text>
<polyline points="308.10,306.20 318.05,308.37 328.00,308.37 347.90,312.17" fill="none" stroke="#363d4a" stroke-width="0.95" stroke-linejoin="round"/>
<line x1="318.05" y1="307.29" x2="318.05" y2="309.46" stroke="#363d4a" stroke-width="0.8"/>
<line x1="316.75" y1="307.29" x2="319.35" y2="307.29" stroke="#363d4a" stroke-width="0.8"/>
<line x1="316.75" y1="309.46" x2="319.35" y2="309.46" stroke="#363d4a" stroke-width="0.8"/>
<line x1="328.00" y1="307.83" x2="328.00" y2="308.92" stroke="#363d4a" stroke-width="0.8"/>
<line x1="326.70" y1="307.83" x2="329.30" y2="307.83" stroke="#363d4a" stroke-width="0.8"/>
<line x1="326.70" y1="308.92" x2="329.30" y2="308.92" stroke="#363d4a" stroke-width="0.8"/>
<circle cx="308.10" cy="306.20" r="1.4" fill="#363d4a"/>
<circle cx="318.05" cy="308.37" r="1.4" fill="#363d4a"/>
<circle cx="328.00" cy="308.37" r="1.4" fill="#363d4a"/>
<circle cx="347.90" cy="312.17" r="1.4" fill="#363d4a"/>
<line x1="149.50" y1="361.20" x2="149.50" y2="289.00" stroke="#1a1a1a" stroke-width="1.25"/>
<line x1="146.50" y1="360.60" x2="149.50" y2="360.60" stroke="#1a1a1a" stroke-width="1.25"/>
<text x="142.50" y="362.70" font-size="7.5" text-anchor="end" textLength="13.40" lengthAdjust="spacingAndGlyphs">0.00</text>
<line x1="146.50" y1="347.03" x2="149.50" y2="347.03" stroke="#1a1a1a" stroke-width="1.25"/>
<text x="142.50" y="349.13" font-size="7.5" text-anchor="end" textLength="13.40" lengthAdjust="spacingAndGlyphs">0.25</text>
<line x1="146.50" y1="333.45" x2="149.50" y2="333.45" stroke="#1a1a1a" stroke-width="1.25"/>
<text x="142.50" y="335.55" font-size="7.5" text-anchor="end" textLength="13.40" lengthAdjust="spacingAndGlyphs">0.50</text>
<line x1="146.50" y1="319.88" x2="149.50" y2="319.88" stroke="#1a1a1a" stroke-width="1.25"/>
<text x="142.50" y="321.98" font-size="7.5" text-anchor="end" textLength="13.40" lengthAdjust="spacingAndGlyphs">0.75</text>
<line x1="146.50" y1="306.30" x2="149.50" y2="306.30" stroke="#1a1a1a" stroke-width="1.25"/>
<text x="142.50" y="308.40" font-size="7.5" text-anchor="end" textLength="12.60" lengthAdjust="spacingAndGlyphs">1.00</text>
<line x1="146.50" y1="292.73" x2="149.50" y2="292.73" stroke="#1a1a1a" stroke-width="1.25"/>
<text x="142.50" y="294.83" font-size="7.5" text-anchor="end" textLength="12.40" lengthAdjust="spacingAndGlyphs">1.25</text>
<text x="124.00" y="326.30" font-size="9" text-anchor="middle" textLength="73.00" lengthAdjust="spacingAndGlyphs" transform="rotate(-90 124.00 326.30)">Normalized cell count</text>
<line x1="148.90" y1="360.60" x2="255.40" y2="360.60" stroke="#1a1a1a" stroke-width="1.25"/>
<line x1="149.50" y1="360.60" x2="149.50" y2="363.60" stroke="#1a1a1a" stroke-width="1.25"/>
<text x="149.50" y="373.40" font-size="7.5" text-anchor="middle" textLength="9.50" lengthAdjust="spacingAndGlyphs">0.0</text>
<line x1="170.00" y1="360.60" x2="170.00" y2="363.60" stroke="#1a1a1a" stroke-width="1.25"/>
<text x="170.00" y="373.40" font-size="7.5" text-anchor="middle" textLength="9.50" lengthAdjust="spacingAndGlyphs">0.1</text>
<line x1="190.50" y1="360.60" x2="190.50" y2="363.60" stroke="#1a1a1a" stroke-width="1.25"/>
<text x="190.50" y="373.40" font-size="7.5" text-anchor="middle" textLength="9.50" lengthAdjust="spacingAndGlyphs">0.2</text>
<line x1="211.00" y1="360.60" x2="211.00" y2="363.60" stroke="#1a1a1a" stroke-width="1.25"/>
<text x="211.00" y="373.40" font-size="7.5" text-anchor="middle" textLength="9.50" lengthAdjust="spacingAndGlyphs">0.3</text>
<line x1="231.50" y1="360.60" x2="231.50" y2="363.60" stroke="#1a1a1a" stroke-width="1.25"/>
<text x="231.50" y="373.40" font-size="7.5" text-anchor="middle" textLength="9.50" lengthAdjust="spacingAndGlyphs">0.4</text>
<line x1="252.00" y1="360.60" x2="252.00" y2="363.60" stroke="#1a1a1a" stroke-width="1.25"/>
<text x="252.00" y="373.40" font-size="7.5" text-anchor="middle" textLength="9.50" lengthAdjust="spacingAndGlyphs">0.5</text>
<text x="202.00" y="386.70" font-size="8.8" text-anchor="middle" textLength="31.70" lengthAdjust="spacingAndGlyphs">JQ1 [µM]</text>
<text x="202.50" y="284.00" font-size="6.9" text-anchor="middle" textLength="19.60" lengthAdjust="spacingAndGlyphs">Empty</text>
<polyline points="149.50,306.30 159.75,307.93 170.00,309.56 200.75,321.50 252.00,329.65" fill="none" stroke="#363d4a" stroke-width="0.95" stroke-linejoin="round"/>
<line x1="170.00" y1="308.47" x2="170.00" y2="310.64" stroke="#363d4a" stroke-width="0.8"/>
<line x1="168.70" y1="308.47" x2="171.30" y2="308.47" stroke="#363d4a" stroke-width="0.8"/>
<line x1="168.70" y1="310.64" x2="171.30" y2="310.64" stroke="#363d4a" stroke-width="0.8"/>
<line x1="200.75" y1="320.42" x2="200.75" y2="322.59" stroke="#363d4a" stroke-width="0.8"/>
<line x1="199.45" y1="320.42" x2="202.05" y2="320.42" stroke="#363d4a" stroke-width="0.8"/>
<line x1="199.45" y1="322.59" x2="202.05" y2="322.59" stroke="#363d4a" stroke-width="0.8"/>
<line x1="252.00" y1="329.11" x2="252.00" y2="330.19" stroke="#363d4a" stroke-width="0.8"/>
<line x1="250.70" y1="329.11" x2="253.30" y2="329.11" stroke="#363d4a" stroke-width="0.8"/>
<line x1="250.70" y1="330.19" x2="253.30" y2="330.19" stroke="#363d4a" stroke-width="0.8"/>
<circle cx="149.50" cy="306.30" r="1.4" fill="#363d4a"/>
<circle cx="159.75" cy="307.93" r="1.4" fill="#363d4a"/>
<circle cx="170.00" cy="309.56" r="1.4" fill="#363d4a"/>
<circle cx="200.75" cy="321.50" r="1.4" fill="#363d4a"/>
<circle cx="252.00" cy="329.65" r="1.4" fill="#363d4a"/>
<polyline points="149.50,306.30 159.75,304.13 170.00,310.10 200.75,320.96 252.00,344.85" fill="none" stroke="#b0183c" stroke-width="0.95" stroke-linejoin="round"/>
<line x1="159.75" y1="301.41" x2="159.75" y2="306.84" stroke="#b0183c" stroke-width="0.8"/>
<line x1="158.45" y1="301.41" x2="161.05" y2="301.41" stroke="#b0183c" stroke-width="0.8"/>
<line x1="158.45" y1="306.84" x2="161.05" y2="306.84" stroke="#b0183c" stroke-width="0.8"/>
<line x1="170.00" y1="309.01" x2="170.00" y2="311.19" stroke="#b0183c" stroke-width="0.8"/>
<line x1="168.70" y1="309.01" x2="171.30" y2="309.01" stroke="#b0183c" stroke-width="0.8"/>
<line x1="168.70" y1="311.19" x2="171.30" y2="311.19" stroke="#b0183c" stroke-width="0.8"/>
<line x1="200.75" y1="319.33" x2="200.75" y2="322.59" stroke="#b0183c" stroke-width="0.8"/>
<line x1="199.45" y1="319.33" x2="202.05" y2="319.33" stroke="#b0183c" stroke-width="0.8"/>
<line x1="199.45" y1="322.59" x2="202.05" y2="322.59" stroke="#b0183c" stroke-width="0.8"/>
<line x1="252.00" y1="343.77" x2="252.00" y2="345.94" stroke="#b0183c" stroke-width="0.8"/>
<line x1="250.70" y1="343.77" x2="253.30" y2="343.77" stroke="#b0183c" stroke-width="0.8"/>
<line x1="250.70" y1="345.94" x2="253.30" y2="345.94" stroke="#b0183c" stroke-width="0.8"/>
<rect x="148.00" y="304.80" width="3.00" height="3.00" fill="#b0183c" stroke="none" stroke-width="0"/>
<rect x="158.25" y="302.63" width="3.00" height="3.00" fill="#b0183c" stroke="none" stroke-width="0"/>
<rect x="168.50" y="308.60" width="3.00" height="3.00" fill="#b0183c" stroke="none" stroke-width="0"/>
<rect x="199.25" y="319.46" width="3.00" height="3.00" fill="#b0183c" stroke="none" stroke-width="0"/>
<rect x="250.50" y="343.35" width="3.00" height="3.00" fill="#b0183c" stroke="none" stroke-width="0"/>
<polyline points="149.50,306.30 159.75,307.93 170.00,323.13 200.75,348.11 252.00,357.89" fill="none" stroke="#33567f" stroke-width="0.95" stroke-linejoin="round"/>
<line x1="170.00" y1="322.05" x2="170.00" y2="324.22" stroke="#33567f" stroke-width="0.8"/>
<line x1="168.70" y1="322.05" x2="171.30" y2="322.05" stroke="#33567f" stroke-width="0.8"/>
<line x1="168.70" y1="324.22" x2="171.30" y2="324.22" stroke="#33567f" stroke-width="0.8"/>
<line x1="200.75" y1="347.57" x2="200.75" y2="348.65" stroke="#33567f" stroke-width="0.8"/>
<line x1="199.45" y1="347.57" x2="202.05" y2="347.57" stroke="#33567f" stroke-width="0.8"/>
<line x1="199.45" y1="348.65" x2="202.05" y2="348.65" stroke="#33567f" stroke-width="0.8"/>
<line x1="252.00" y1="357.34" x2="252.00" y2="358.43" stroke="#33567f" stroke-width="0.8"/>
<line x1="250.70" y1="357.34" x2="253.30" y2="357.34" stroke="#33567f" stroke-width="0.8"/>
<line x1="250.70" y1="358.43" x2="253.30" y2="358.43" stroke="#33567f" stroke-width="0.8"/>
<circle cx="149.50" cy="306.30" r="1.4" fill="#33567f"/>
<circle cx="159.75" cy="307.93" r="1.4" fill="#33567f"/>
<circle cx="170.00" cy="323.13" r="1.4" fill="#33567f"/>
<circle cx="200.75" cy="348.11" r="1.4" fill="#33567f"/>
<circle cx="252.00" cy="357.89" r="1.4" fill="#33567f"/>
<polyline points="149.50,306.30 159.75,331.82 170.00,345.40 200.75,355.98 252.00,359.51" fill="none" stroke="#55a05a" stroke-width="0.95" stroke-linejoin="round"/>
<line x1="159.75" y1="328.56" x2="159.75" y2="335.08" stroke="#55a05a" stroke-width="0.8"/>
<line x1="158.45" y1="328.56" x2="161.05" y2="328.56" stroke="#55a05a" stroke-width="0.8"/>
<line x1="158.45" y1="335.08" x2="161.05" y2="335.08" stroke="#55a05a" stroke-width="0.8"/>
<line x1="170.00" y1="344.85" x2="170.00" y2="345.94" stroke="#55a05a" stroke-width="0.8"/>
<line x1="168.70" y1="344.85" x2="171.30" y2="344.85" stroke="#55a05a" stroke-width="0.8"/>
<line x1="168.70" y1="345.94" x2="171.30" y2="345.94" stroke="#55a05a" stroke-width="0.8"/>
<circle cx="149.50" cy="306.30" r="1.4" fill="#55a05a"/>
<circle cx="159.75" cy="331.82" r="1.4" fill="#55a05a"/>
<circle cx="170.00" cy="345.40" r="1.4" fill="#55a05a"/>
<circle cx="200.75" cy="355.98" r="1.4" fill="#55a05a"/>
<circle cx="252.00" cy="359.51" r="1.4" fill="#55a05a"/>
<line x1="207.40" y1="292.80" x2="214.60" y2="292.80" stroke="#363d4a" stroke-width="1"/>
<circle cx="211.00" cy="292.80" r="1.3" fill="#363d4a"/>
<text x="218.90" y="295.30" font-size="7" text-anchor="start" textLength="21.30" lengthAdjust="spacingAndGlyphs">Solvent</text>
<line x1="207.40" y1="300.50" x2="214.60" y2="300.50" stroke="#b0183c" stroke-width="1"/>
<rect x="209.50" y="299.00" width="3.00" height="3.00" fill="#b0183c" stroke="none" stroke-width="0"/>
<text x="218.90" y="303.00" font-size="7" text-anchor="start" textLength="29.50" lengthAdjust="spacingAndGlyphs">5 µM DMF</text>
<line x1="207.40" y1="308.10" x2="214.60" y2="308.10" stroke="#33567f" stroke-width="1"/>
<circle cx="211.00" cy="308.10" r="1.3" fill="#33567f"/>
<text x="218.90" y="310.60" font-size="7" text-anchor="start" textLength="34.60" lengthAdjust="spacingAndGlyphs">10 µM DMF</text>
<line x1="207.40" y1="315.70" x2="214.60" y2="315.70" stroke="#55a05a" stroke-width="1"/>
<circle cx="211.00" cy="315.70" r="1.3" fill="#55a05a"/>
<text x="218.90" y="318.20" font-size="7" text-anchor="start" textLength="34.60" lengthAdjust="spacingAndGlyphs">20 µM DMF</text>
<text x="252.30" y="343.50" font-size="7" text-anchor="middle" textLength="5.50" lengthAdjust="spacingAndGlyphs">**</text>
<text x="252.30" y="356.50" font-size="7" text-anchor="middle" textLength="8.00" lengthAdjust="spacingAndGlyphs">***</text>
<line x1="403.40" y1="361.10" x2="403.40" y2="289.00" stroke="#1a1a1a" stroke-width="1.25"/>
<line x1="400.40" y1="360.50" x2="403.40" y2="360.50" stroke="#1a1a1a" stroke-width="1.25"/>
<text x="396.40" y="362.60" font-size="7.5" text-anchor="end" textLength="13.40" lengthAdjust="spacingAndGlyphs">0.00</text>
<line x1="400.40" y1="346.93" x2="403.40" y2="346.93" stroke="#1a1a1a" stroke-width="1.25"/>
<text x="396.40" y="349.03" font-size="7.5" text-anchor="end" textLength="13.40" lengthAdjust="spacingAndGlyphs">0.25</text>
<line x1="400.40" y1="333.35" x2="403.40" y2="333.35" stroke="#1a1a1a" stroke-width="1.25"/>
<text x="396.40" y="335.45" font-size="7.5" text-anchor="end" textLength="13.40" lengthAdjust="spacingAndGlyphs">0.50</text>
<line x1="400.40" y1="319.77" x2="403.40" y2="319.77" stroke="#1a1a1a" stroke-width="1.25"/>
<text x="396.40" y="321.88" font-size="7.5" text-anchor="end" textLength="13.40" lengthAdjust="spacingAndGlyphs">0.75</text>
<line x1="400.40" y1="306.20" x2="403.40" y2="306.20" stroke="#1a1a1a" stroke-width="1.25"/>
<text x="396.40" y="308.30" font-size="7.5" text-anchor="end" textLength="12.60" lengthAdjust="spacingAndGlyphs">1.00</text>
<line x1="400.40" y1="292.62" x2="403.40" y2="292.62" stroke="#1a1a1a" stroke-width="1.25"/>
<text x="396.40" y="294.73" font-size="7.5" text-anchor="end" textLength="12.40" lengthAdjust="spacingAndGlyphs">1.25</text>
<text x="378.50" y="326.25" font-size="9" text-anchor="middle" textLength="73.00" lengthAdjust="spacingAndGlyphs" transform="rotate(-90 378.50 326.25)">Normalized cell count</text>
<line x1="402.80" y1="360.50" x2="509.30" y2="360.50" stroke="#1a1a1a" stroke-width="1.25"/>
<line x1="403.40" y1="360.50" x2="403.40" y2="363.50" stroke="#1a1a1a" stroke-width="1.25"/>
<text x="403.40" y="373.30" font-size="7.5" text-anchor="middle" textLength="9.50" lengthAdjust="spacingAndGlyphs">0.0</text>
<line x1="423.90" y1="360.50" x2="423.90" y2="363.50" stroke="#1a1a1a" stroke-width="1.25"/>
<text x="423.90" y="373.30" font-size="7.5" text-anchor="middle" textLength="9.50" lengthAdjust="spacingAndGlyphs">0.1</text>
<line x1="444.40" y1="360.50" x2="444.40" y2="363.50" stroke="#1a1a1a" stroke-width="1.25"/>
<text x="444.40" y="373.30" font-size="7.5" text-anchor="middle" textLength="9.50" lengthAdjust="spacingAndGlyphs">0.2</text>
<line x1="464.90" y1="360.50" x2="464.90" y2="363.50" stroke="#1a1a1a" stroke-width="1.25"/>
<text x="464.90" y="373.30" font-size="7.5" text-anchor="middle" textLength="9.50" lengthAdjust="spacingAndGlyphs">0.3</text>
<line x1="485.40" y1="360.50" x2="485.40" y2="363.50" stroke="#1a1a1a" stroke-width="1.25"/>
<text x="485.40" y="373.30" font-size="7.5" text-anchor="middle" textLength="9.50" lengthAdjust="spacingAndGlyphs">0.4</text>
<line x1="505.90" y1="360.50" x2="505.90" y2="363.50" stroke="#1a1a1a" stroke-width="1.25"/>
<text x="505.90" y="373.30" font-size="7.5" text-anchor="middle" textLength="9.50" lengthAdjust="spacingAndGlyphs">0.5</text>
<text x="456.00" y="386.20" font-size="8.8" text-anchor="middle" textLength="31.60" lengthAdjust="spacingAndGlyphs">JQ1 [µM]</text>
<text x="456.00" y="284.00" font-size="6.9" text-anchor="middle" textLength="35.60" lengthAdjust="spacingAndGlyphs">FSP1-FLAG</text>
<polyline points="403.40,306.20 413.65,312.72 423.90,315.97 454.65,322.49 505.90,332.26" fill="none" stroke="#363d4a" stroke-width="0.95" stroke-linejoin="round"/>
<line x1="413.65" y1="311.63" x2="413.65" y2="313.80" stroke="#363d4a" stroke-width="0.8"/>
<line x1="412.35" y1="311.63" x2="414.95" y2="311.63" stroke="#363d4a" stroke-width="0.8"/>
<line x1="412.35" y1="313.80" x2="414.95" y2="313.80" stroke="#363d4a" stroke-width="0.8"/>
<line x1="423.90" y1="314.89" x2="423.90" y2="317.06" stroke="#363d4a" stroke-width="0.8"/>
<line x1="422.60" y1="314.89" x2="425.20" y2="314.89" stroke="#363d4a" stroke-width="0.8"/>
<line x1="422.60" y1="317.06" x2="425.20" y2="317.06" stroke="#363d4a" stroke-width="0.8"/>
<line x1="454.65" y1="321.40" x2="454.65" y2="323.58" stroke="#363d4a" stroke-width="0.8"/>
<line x1="453.35" y1="321.40" x2="455.95" y2="321.40" stroke="#363d4a" stroke-width="0.8"/>
<line x1="453.35" y1="323.58" x2="455.95" y2="323.58" stroke="#363d4a" stroke-width="0.8"/>
<line x1="505.90" y1="331.18" x2="505.90" y2="333.35" stroke="#363d4a" stroke-width="0.8"/>
<line x1="504.60" y1="331.18" x2="507.20" y2="331.18" stroke="#363d4a" stroke-width="0.8"/>
<line x1="504.60" y1="333.35" x2="507.20" y2="333.35" stroke="#363d4a" stroke-width="0.8"/>
<circle cx="403.40" cy="306.20" r="1.4" fill="#363d4a"/>
<circle cx="413.65" cy="312.72" r="1.4" fill="#363d4a"/>
<circle cx="423.90" cy="315.97" r="1.4" fill="#363d4a"/>
<circle cx="454.65" cy="322.49" r="1.4" fill="#363d4a"/>
<circle cx="505.90" cy="332.26" r="1.4" fill="#363d4a"/>
<polyline points="403.40,306.20 413.65,312.17 423.90,312.72 454.65,320.32 505.90,332.81" fill="none" stroke="#b0183c" stroke-width="0.95" stroke-linejoin="round"/>
<line x1="413.65" y1="311.09" x2="413.65" y2="313.26" stroke="#b0183c" stroke-width="0.8"/>
<line x1="412.35" y1="311.09" x2="414.95" y2="311.09" stroke="#b0183c" stroke-width="0.8"/>
<line x1="412.35" y1="313.26" x2="414.95" y2="313.26" stroke="#b0183c" stroke-width="0.8"/>
<line x1="423.90" y1="312.17" x2="423.90" y2="313.26" stroke="#b0183c" stroke-width="0.8"/>
<line x1="422.60" y1="312.17" x2="425.20" y2="312.17" stroke="#b0183c" stroke-width="0.8"/>
<line x1="422.60" y1="313.26" x2="425.20" y2="313.26" stroke="#b0183c" stroke-width="0.8"/>
<line x1="454.65" y1="319.23" x2="454.65" y2="321.40" stroke="#b0183c" stroke-width="0.8"/>
<line x1="453.35" y1="319.23" x2="455.95" y2="319.23" stroke="#b0183c" stroke-width="0.8"/>
<line x1="453.35" y1="321.40" x2="455.95" y2="321.40" stroke="#b0183c" stroke-width="0.8"/>
<line x1="505.90" y1="331.72" x2="505.90" y2="333.89" stroke="#b0183c" stroke-width="0.8"/>
<line x1="504.60" y1="331.72" x2="507.20" y2="331.72" stroke="#b0183c" stroke-width="0.8"/>
<line x1="504.60" y1="333.89" x2="507.20" y2="333.89" stroke="#b0183c" stroke-width="0.8"/>
<rect x="401.90" y="304.70" width="3.00" height="3.00" fill="#b0183c" stroke="none" stroke-width="0"/>
<rect x="412.15" y="310.67" width="3.00" height="3.00" fill="#b0183c" stroke="none" stroke-width="0"/>
<rect x="422.40" y="311.22" width="3.00" height="3.00" fill="#b0183c" stroke="none" stroke-width="0"/>
<rect x="453.15" y="318.82" width="3.00" height="3.00" fill="#b0183c" stroke="none" stroke-width="0"/>
<rect x="504.40" y="331.31" width="3.00" height="3.00" fill="#b0183c" stroke="none" stroke-width="0"/>
<polyline points="403.40,306.20 413.65,313.26 423.90,317.60 454.65,324.12 505.90,338.78" fill="none" stroke="#33567f" stroke-width="0.95" stroke-linejoin="round"/>
<line x1="413.65" y1="311.63" x2="413.65" y2="314.89" stroke="#33567f" stroke-width="0.8"/>
<line x1="412.35" y1="311.63" x2="414.95" y2="311.63" stroke="#33567f" stroke-width="0.8"/>
<line x1="412.35" y1="314.89" x2="414.95" y2="314.89" stroke="#33567f" stroke-width="0.8"/>
<line x1="423.90" y1="315.97" x2="423.90" y2="319.23" stroke="#33567f" stroke-width="0.8"/>
<line x1="422.60" y1="315.97" x2="425.20" y2="315.97" stroke="#33567f" stroke-width="0.8"/>
<line x1="422.60" y1="319.23" x2="425.20" y2="319.23" stroke="#33567f" stroke-width="0.8"/>
<line x1="454.65" y1="323.03" x2="454.65" y2="325.21" stroke="#33567f" stroke-width="0.8"/>
<line x1="453.35" y1="323.03" x2="455.95" y2="323.03" stroke="#33567f" stroke-width="0.8"/>
<line x1="453.35" y1="325.21" x2="455.95" y2="325.21" stroke="#33567f" stroke-width="0.8"/>
<line x1="505.90" y1="338.24" x2="505.90" y2="339.32" stroke="#33567f" stroke-width="0.8"/>
<line x1="504.60" y1="338.24" x2="507.20" y2="338.24" stroke="#33567f" stroke-width="0.8"/>
<line x1="504.60" y1="339.32" x2="507.20" y2="339.32" stroke="#33567f" stroke-width="0.8"/>
<circle cx="403.40" cy="306.20" r="1.4" fill="#33567f"/>
<circle cx="413.65" cy="313.26" r="1.4" fill="#33567f"/>
<circle cx="423.90" cy="317.60" r="1.4" fill="#33567f"/>
<circle cx="454.65" cy="324.12" r="1.4" fill="#33567f"/>
<circle cx="505.90" cy="338.78" r="1.4" fill="#33567f"/>
<polyline points="403.40,306.20 413.65,313.80 423.90,320.32 454.65,334.44 505.90,344.21" fill="none" stroke="#55a05a" stroke-width="0.95" stroke-linejoin="round"/>
<line x1="413.65" y1="310.54" x2="413.65" y2="317.06" stroke="#55a05a" stroke-width="0.8"/>
<line x1="412.35" y1="310.54" x2="414.95" y2="310.54" stroke="#55a05a" stroke-width="0.8"/>
<line x1="412.35" y1="317.06" x2="414.95" y2="317.06" stroke="#55a05a" stroke-width="0.8"/>
<line x1="423.90" y1="318.15" x2="423.90" y2="322.49" stroke="#55a05a" stroke-width="0.8"/>
<line x1="422.60" y1="318.15" x2="425.20" y2="318.15" stroke="#55a05a" stroke-width="0.8"/>
<line x1="422.60" y1="322.49" x2="425.20" y2="322.49" stroke="#55a05a" stroke-width="0.8"/>
<line x1="454.65" y1="332.26" x2="454.65" y2="336.61" stroke="#55a05a" stroke-width="0.8"/>
<line x1="453.35" y1="332.26" x2="455.95" y2="332.26" stroke="#55a05a" stroke-width="0.8"/>
<line x1="453.35" y1="336.61" x2="455.95" y2="336.61" stroke="#55a05a" stroke-width="0.8"/>
<line x1="505.90" y1="342.58" x2="505.90" y2="345.84" stroke="#55a05a" stroke-width="0.8"/>
<line x1="504.60" y1="342.58" x2="507.20" y2="342.58" stroke="#55a05a" stroke-width="0.8"/>
<line x1="504.60" y1="345.84" x2="507.20" y2="345.84" stroke="#55a05a" stroke-width="0.8"/>
<circle cx="403.40" cy="306.20" r="1.4" fill="#55a05a"/>
<circle cx="413.65" cy="313.80" r="1.4" fill="#55a05a"/>
<circle cx="423.90" cy="320.32" r="1.4" fill="#55a05a"/>
<circle cx="454.65" cy="334.44" r="1.4" fill="#55a05a"/>
<circle cx="505.90" cy="344.21" r="1.4" fill="#55a05a"/>
<line x1="459.00" y1="292.80" x2="466.20" y2="292.80" stroke="#363d4a" stroke-width="1"/>
<circle cx="462.60" cy="292.80" r="1.3" fill="#363d4a"/>
<text x="470.50" y="295.30" font-size="7" text-anchor="start" textLength="21.30" lengthAdjust="spacingAndGlyphs">Solvent</text>
<line x1="459.00" y1="300.50" x2="466.20" y2="300.50" stroke="#b0183c" stroke-width="1"/>
<rect x="461.10" y="299.00" width="3.00" height="3.00" fill="#b0183c" stroke="none" stroke-width="0"/>
<text x="470.50" y="303.00" font-size="7" text-anchor="start" textLength="29.50" lengthAdjust="spacingAndGlyphs">5 µM DMF</text>
<line x1="459.00" y1="308.10" x2="466.20" y2="308.10" stroke="#33567f" stroke-width="1"/>
<circle cx="462.60" cy="308.10" r="1.3" fill="#33567f"/>
<text x="470.50" y="310.60" font-size="7" text-anchor="start" textLength="34.60" lengthAdjust="spacingAndGlyphs">10 µM DMF</text>
<line x1="459.00" y1="315.70" x2="466.20" y2="315.70" stroke="#55a05a" stroke-width="1"/>
<circle cx="462.60" cy="315.70" r="1.3" fill="#55a05a"/>
<text x="470.50" y="318.20" font-size="7" text-anchor="start" textLength="34.60" lengthAdjust="spacingAndGlyphs">20 µM DMF</text>
<line x1="53.50" y1="492.20" x2="53.50" y2="420.30" stroke="#1a1a1a" stroke-width="1.25"/>
<line x1="50.50" y1="491.60" x2="53.50" y2="491.60" stroke="#1a1a1a" stroke-width="1.25"/>
<text x="47.50" y="493.70" font-size="7.5" text-anchor="end" textLength="9.60" lengthAdjust="spacingAndGlyphs">0.0</text>
<line x1="50.50" y1="468.95" x2="53.50" y2="468.95" stroke="#1a1a1a" stroke-width="1.25"/>
<text x="47.50" y="471.05" font-size="7.5" text-anchor="end" textLength="9.60" lengthAdjust="spacingAndGlyphs">0.5</text>
<line x1="50.50" y1="446.30" x2="53.50" y2="446.30" stroke="#1a1a1a" stroke-width="1.25"/>
<text x="47.50" y="448.40" font-size="7.5" text-anchor="end" textLength="8.70" lengthAdjust="spacingAndGlyphs">1.0</text>
<line x1="50.50" y1="423.65" x2="53.50" y2="423.65" stroke="#1a1a1a" stroke-width="1.25"/>
<text x="47.50" y="425.75" font-size="7.5" text-anchor="end" textLength="8.70" lengthAdjust="spacingAndGlyphs">1.5</text>
<text x="33.50" y="458.00" font-size="9" text-anchor="middle" textLength="72.50" lengthAdjust="spacingAndGlyphs" transform="rotate(-90 33.50 458.00)">Normalized cell count</text>
<line x1="52.90" y1="491.60" x2="95.00" y2="491.60" stroke="#1a1a1a" stroke-width="1.25"/>
<rect x="57.00" y="446.30" width="13.20" height="45.30" fill="#3f4d63" stroke="none" stroke-width="0"/>
<line x1="63.60" y1="446.30" x2="63.60" y2="445.39" stroke="#3f4d63" stroke-width="0.9"/>
<line x1="61.10" y1="445.39" x2="66.10" y2="445.39" stroke="#3f4d63" stroke-width="0.9"/>
<line x1="63.60" y1="491.60" x2="63.60" y2="494.60" stroke="#1a1a1a" stroke-width="1.25"/>
<rect x="77.20" y="458.98" width="13.20" height="32.62" fill="#3f4d63" stroke="none" stroke-width="0"/>
<line x1="83.80" y1="458.98" x2="83.80" y2="457.62" stroke="#3f4d63" stroke-width="0.9"/>
<line x1="81.30" y1="457.62" x2="86.30" y2="457.62" stroke="#3f4d63" stroke-width="0.9"/>
<line x1="83.80" y1="491.60" x2="83.80" y2="494.60" stroke="#1a1a1a" stroke-width="1.25"/>
<text x="73.50" y="415.90" font-size="6.9" text-anchor="middle" textLength="24.60" lengthAdjust="spacingAndGlyphs">DOHH2</text>
<text x="64.20" y="502.20" font-size="8" text-anchor="end" textLength="23.3" lengthAdjust="spacingAndGlyphs" transform="rotate(-45 64.20 502.20)">Solvent</text>
<text x="84.40" y="502.20" font-size="8" text-anchor="end" textLength="15.3" lengthAdjust="spacingAndGlyphs" transform="rotate(-45 84.40 502.20)">iFSP1</text>
<line x1="307.50" y1="492.20" x2="307.50" y2="420.30" stroke="#1a1a1a" stroke-width="1.25"/>
<line x1="304.50" y1="491.60" x2="307.50" y2="491.60" stroke="#1a1a1a" stroke-width="1.25"/>
<text x="301.50" y="493.70" font-size="7.5" text-anchor="end" textLength="9.60" lengthAdjust="spacingAndGlyphs">0.0</text>
<line x1="304.50" y1="468.95" x2="307.50" y2="468.95" stroke="#1a1a1a" stroke-width="1.25"/>
<text x="301.50" y="471.05" font-size="7.5" text-anchor="end" textLength="9.60" lengthAdjust="spacingAndGlyphs">0.5</text>
<line x1="304.50" y1="446.30" x2="307.50" y2="446.30" stroke="#1a1a1a" stroke-width="1.25"/>
<text x="301.50" y="448.40" font-size="7.5" text-anchor="end" textLength="8.70" lengthAdjust="spacingAndGlyphs">1.0</text>
<line x1="304.50" y1="423.65" x2="307.50" y2="423.65" stroke="#1a1a1a" stroke-width="1.25"/>
<text x="301.50" y="425.75" font-size="7.5" text-anchor="end" textLength="8.70" lengthAdjust="spacingAndGlyphs">1.5</text>
<text x="288.00" y="457.00" font-size="9" text-anchor="middle" textLength="72.50" lengthAdjust="spacingAndGlyphs" transform="rotate(-90 288.00 457.00)">Normalized cell count</text>
<line x1="306.90" y1="491.60" x2="349.00" y2="491.60" stroke="#1a1a1a" stroke-width="1.25"/>
<rect x="311.00" y="446.30" width="13.20" height="45.30" fill="#3f4d63" stroke="none" stroke-width="0"/>
<line x1="317.60" y1="446.30" x2="317.60" y2="444.04" stroke="#3f4d63" stroke-width="0.9"/>
<line x1="315.10" y1="444.04" x2="320.10" y2="444.04" stroke="#3f4d63" stroke-width="0.9"/>
<line x1="317.60" y1="491.60" x2="317.60" y2="494.60" stroke="#1a1a1a" stroke-width="1.25"/>
<rect x="331.20" y="466.69" width="13.20" height="24.91" fill="#3f4d63" stroke="none" stroke-width="0"/>
<line x1="337.80" y1="466.69" x2="337.80" y2="466.23" stroke="#3f4d63" stroke-width="0.9"/>
<line x1="335.30" y1="466.23" x2="340.30" y2="466.23" stroke="#3f4d63" stroke-width="0.9"/>
<line x1="337.80" y1="491.60" x2="337.80" y2="494.60" stroke="#1a1a1a" stroke-width="1.25"/>
<text x="327.70" y="415.90" font-size="6.9" text-anchor="middle" textLength="40.90" lengthAdjust="spacingAndGlyphs">WSU-DLCL-2</text>
<text x="318.20" y="502.20" font-size="8" text-anchor="end" textLength="23.3" lengthAdjust="spacingAndGlyphs" transform="rotate(-45 318.20 502.20)">Solvent</text>
<text x="338.40" y="502.20" font-size="8" text-anchor="end" textLength="15.3" lengthAdjust="spacingAndGlyphs" transform="rotate(-45 338.40 502.20)">iFSP1</text>
<line x1="146.00" y1="492.10" x2="146.00" y2="419.80" stroke="#1a1a1a" stroke-width="1.25"/>
<line x1="143.00" y1="491.50" x2="146.00" y2="491.50" stroke="#1a1a1a" stroke-width="1.25"/>
<text x="139.00" y="493.60" font-size="7.5" text-anchor="end" textLength="13.40" lengthAdjust="spacingAndGlyphs">0.00</text>
<line x1="143.00" y1="477.75" x2="146.00" y2="477.75" stroke="#1a1a1a" stroke-width="1.25"/>
<text x="139.00" y="479.85" font-size="7.5" text-anchor="end" textLength="13.40" lengthAdjust="spacingAndGlyphs">0.25</text>
<line x1="143.00" y1="464.00" x2="146.00" y2="464.00" stroke="#1a1a1a" stroke-width="1.25"/>
<text x="139.00" y="466.10" font-size="7.5" text-anchor="end" textLength="13.40" lengthAdjust="spacingAndGlyphs">0.50</text>
<line x1="143.00" y1="450.25" x2="146.00" y2="450.25" stroke="#1a1a1a" stroke-width="1.25"/>
<text x="139.00" y="452.35" font-size="7.5" text-anchor="end" textLength="13.40" lengthAdjust="spacingAndGlyphs">0.75</text>
<line x1="143.00" y1="436.50" x2="146.00" y2="436.50" stroke="#1a1a1a" stroke-width="1.25"/>
<text x="139.00" y="438.60" font-size="7.5" text-anchor="end" textLength="12.60" lengthAdjust="spacingAndGlyphs">1.00</text>
<line x1="143.00" y1="422.75" x2="146.00" y2="422.75" stroke="#1a1a1a" stroke-width="1.25"/>
<text x="139.00" y="424.85" font-size="7.5" text-anchor="end" textLength="12.40" lengthAdjust="spacingAndGlyphs">1.25</text>
<text x="123.20" y="458.20" font-size="9" text-anchor="middle" textLength="73.50" lengthAdjust="spacingAndGlyphs" transform="rotate(-90 123.20 458.20)">Normalized cell count</text>
<line x1="145.40" y1="491.50" x2="251.60" y2="491.50" stroke="#1a1a1a" stroke-width="1.25"/>
<line x1="146.00" y1="491.50" x2="146.00" y2="494.50" stroke="#1a1a1a" stroke-width="1.25"/>
<text x="146.00" y="503.20" font-size="7.5" text-anchor="middle" textLength="13.40" lengthAdjust="spacingAndGlyphs">0.00</text>
<line x1="171.68" y1="491.50" x2="171.68" y2="494.50" stroke="#1a1a1a" stroke-width="1.25"/>
<text x="171.68" y="503.20" font-size="7.5" text-anchor="middle" textLength="13.40" lengthAdjust="spacingAndGlyphs">0.25</text>
<line x1="197.35" y1="491.50" x2="197.35" y2="494.50" stroke="#1a1a1a" stroke-width="1.25"/>
<text x="197.35" y="503.20" font-size="7.5" text-anchor="middle" textLength="13.40" lengthAdjust="spacingAndGlyphs">0.50</text>
<line x1="223.03" y1="491.50" x2="223.03" y2="494.50" stroke="#1a1a1a" stroke-width="1.25"/>
<text x="223.03" y="503.20" font-size="7.5" text-anchor="middle" textLength="13.40" lengthAdjust="spacingAndGlyphs">0.75</text>
<line x1="248.70" y1="491.50" x2="248.70" y2="494.50" stroke="#1a1a1a" stroke-width="1.25"/>
<text x="248.70" y="503.20" font-size="7.5" text-anchor="middle" textLength="12.60" lengthAdjust="spacingAndGlyphs">1.00</text>
<text x="196.60" y="516.30" font-size="8.8" text-anchor="middle" textLength="31.10" lengthAdjust="spacingAndGlyphs">JQ1 [µM]</text>
<text x="197.30" y="415.90" font-size="6.9" text-anchor="middle" textLength="24.60" lengthAdjust="spacingAndGlyphs">DOHH2</text>
<polyline points="146.00,434.85 147.03,432.10 148.57,434.30 151.13,436.50 156.27,445.85 171.68,462.90 197.35,473.35 248.70,479.95" fill="none" stroke="#b0183c" stroke-width="0.95" stroke-linejoin="round"/>
<line x1="146.00" y1="433.20" x2="146.00" y2="436.50" stroke="#b0183c" stroke-width="0.8"/>
<line x1="144.70" y1="433.20" x2="147.30" y2="433.20" stroke="#b0183c" stroke-width="0.8"/>
<line x1="144.70" y1="436.50" x2="147.30" y2="436.50" stroke="#b0183c" stroke-width="0.8"/>
<line x1="147.03" y1="431.00" x2="147.03" y2="433.20" stroke="#b0183c" stroke-width="0.8"/>
<line x1="145.73" y1="431.00" x2="148.33" y2="431.00" stroke="#b0183c" stroke-width="0.8"/>
<line x1="145.73" y1="433.20" x2="148.33" y2="433.20" stroke="#b0183c" stroke-width="0.8"/>
<line x1="148.57" y1="433.20" x2="148.57" y2="435.40" stroke="#b0183c" stroke-width="0.8"/>
<line x1="147.27" y1="433.20" x2="149.87" y2="433.20" stroke="#b0183c" stroke-width="0.8"/>
<line x1="147.27" y1="435.40" x2="149.87" y2="435.40" stroke="#b0183c" stroke-width="0.8"/>
<line x1="151.13" y1="435.40" x2="151.13" y2="437.60" stroke="#b0183c" stroke-width="0.8"/>
<line x1="149.83" y1="435.40" x2="152.44" y2="435.40" stroke="#b0183c" stroke-width="0.8"/>
<line x1="149.83" y1="437.60" x2="152.44" y2="437.60" stroke="#b0183c" stroke-width="0.8"/>
<line x1="156.27" y1="444.75" x2="156.27" y2="446.95" stroke="#b0183c" stroke-width="0.8"/>
<line x1="154.97" y1="444.75" x2="157.57" y2="444.75" stroke="#b0183c" stroke-width="0.8"/>
<line x1="154.97" y1="446.95" x2="157.57" y2="446.95" stroke="#b0183c" stroke-width="0.8"/>
<line x1="248.70" y1="478.85" x2="248.70" y2="481.05" stroke="#b0183c" stroke-width="0.8"/>
<line x1="247.40" y1="478.85" x2="250.00" y2="478.85" stroke="#b0183c" stroke-width="0.8"/>
<line x1="247.40" y1="481.05" x2="250.00" y2="481.05" stroke="#b0183c" stroke-width="0.8"/>
<rect x="144.50" y="433.35" width="3.00" height="3.00" fill="#b0183c" stroke="none" stroke-width="0"/>
<rect x="145.53" y="430.60" width="3.00" height="3.00" fill="#b0183c" stroke="none" stroke-width="0"/>
<rect x="147.07" y="432.80" width="3.00" height="3.00" fill="#b0183c" stroke="none" stroke-width="0"/>
<rect x="149.63" y="435.00" width="3.00" height="3.00" fill="#b0183c" stroke="none" stroke-width="0"/>
<rect x="154.77" y="444.35" width="3.00" height="3.00" fill="#b0183c" stroke="none" stroke-width="0"/>
<rect x="170.18" y="461.40" width="3.00" height="3.00" fill="#b0183c" stroke="none" stroke-width="0"/>
<rect x="195.85" y="471.85" width="3.00" height="3.00" fill="#b0183c" stroke="none" stroke-width="0"/>
<rect x="247.20" y="478.45" width="3.00" height="3.00" fill="#b0183c" stroke="none" stroke-width="0"/>
<polyline points="146.00,439.25 147.03,438.15 148.57,442.00 151.13,446.95 156.27,457.40 171.68,471.70 197.35,477.75 248.70,482.15" fill="none" stroke="#363d4a" stroke-width="0.95" stroke-linejoin="round"/>
<line x1="146.00" y1="437.60" x2="146.00" y2="440.90" stroke="#363d4a" stroke-width="0.8"/>
<line x1="144.70" y1="437.60" x2="147.30" y2="437.60" stroke="#363d4a" stroke-width="0.8"/>
<line x1="144.70" y1="440.90" x2="147.30" y2="440.90" stroke="#363d4a" stroke-width="0.8"/>
<line x1="248.70" y1="481.05" x2="248.70" y2="483.25" stroke="#363d4a" stroke-width="0.8"/>
<line x1="247.40" y1="481.05" x2="250.00" y2="481.05" stroke="#363d4a" stroke-width="0.8"/>
<line x1="247.40" y1="483.25" x2="250.00" y2="483.25" stroke="#363d4a" stroke-width="0.8"/>
<circle cx="146.00" cy="439.25" r="1.4" fill="#363d4a"/>
<circle cx="147.03" cy="438.15" r="1.4" fill="#363d4a"/>
<circle cx="148.57" cy="442.00" r="1.4" fill="#363d4a"/>
<circle cx="151.13" cy="446.95" r="1.4" fill="#363d4a"/>
<circle cx="156.27" cy="457.40" r="1.4" fill="#363d4a"/>
<circle cx="171.68" cy="471.70" r="1.4" fill="#363d4a"/>
<circle cx="197.35" cy="477.75" r="1.4" fill="#363d4a"/>
<circle cx="248.70" cy="482.15" r="1.4" fill="#363d4a"/>
<line x1="211.90" y1="429.40" x2="219.10" y2="429.40" stroke="#363d4a" stroke-width="1"/>
<circle cx="215.50" cy="429.40" r="1.3" fill="#363d4a"/>
<text x="223.40" y="431.90" font-size="7" text-anchor="start" textLength="23.50" lengthAdjust="spacingAndGlyphs">Solvent</text>
<line x1="211.90" y1="436.80" x2="219.10" y2="436.80" stroke="#b0183c" stroke-width="1"/>
<rect x="214.00" y="435.30" width="3.00" height="3.00" fill="#b0183c" stroke="none" stroke-width="0"/>
<text x="223.40" y="439.30" font-size="7" text-anchor="start" textLength="17.00" lengthAdjust="spacingAndGlyphs">iFSP1</text>
<line x1="402.60" y1="492.10" x2="402.60" y2="419.80" stroke="#1a1a1a" stroke-width="1.25"/>
<line x1="399.60" y1="491.50" x2="402.60" y2="491.50" stroke="#1a1a1a" stroke-width="1.25"/>
<text x="395.60" y="493.60" font-size="7.5" text-anchor="end" textLength="13.40" lengthAdjust="spacingAndGlyphs">0.00</text>
<line x1="399.60" y1="479.98" x2="402.60" y2="479.98" stroke="#1a1a1a" stroke-width="1.25"/>
<text x="395.60" y="482.08" font-size="7.5" text-anchor="end" textLength="13.40" lengthAdjust="spacingAndGlyphs">0.25</text>
<line x1="399.60" y1="468.45" x2="402.60" y2="468.45" stroke="#1a1a1a" stroke-width="1.25"/>
<text x="395.60" y="470.55" font-size="7.5" text-anchor="end" textLength="13.40" lengthAdjust="spacingAndGlyphs">0.50</text>
<line x1="399.60" y1="456.93" x2="402.60" y2="456.93" stroke="#1a1a1a" stroke-width="1.25"/>
<text x="395.60" y="459.03" font-size="7.5" text-anchor="end" textLength="13.40" lengthAdjust="spacingAndGlyphs">0.75</text>
<line x1="399.60" y1="445.40" x2="402.60" y2="445.40" stroke="#1a1a1a" stroke-width="1.25"/>
<text x="395.60" y="447.50" font-size="7.5" text-anchor="end" textLength="12.60" lengthAdjust="spacingAndGlyphs">1.00</text>
<line x1="399.60" y1="433.88" x2="402.60" y2="433.88" stroke="#1a1a1a" stroke-width="1.25"/>
<text x="395.60" y="435.98" font-size="7.5" text-anchor="end" textLength="12.40" lengthAdjust="spacingAndGlyphs">1.25</text>
<line x1="399.60" y1="422.35" x2="402.60" y2="422.35" stroke="#1a1a1a" stroke-width="1.25"/>
<text x="395.60" y="424.45" font-size="7.5" text-anchor="end" textLength="12.40" lengthAdjust="spacingAndGlyphs">1.50</text>
<text x="379.00" y="458.50" font-size="9" text-anchor="middle" textLength="73.50" lengthAdjust="spacingAndGlyphs" transform="rotate(-90 379.00 458.50)">Normalized cell count</text>
<line x1="402.00" y1="491.50" x2="508.20" y2="491.50" stroke="#1a1a1a" stroke-width="1.25"/>
<line x1="402.60" y1="491.50" x2="402.60" y2="494.50" stroke="#1a1a1a" stroke-width="1.25"/>
<text x="402.60" y="503.20" font-size="7.5" text-anchor="middle" textLength="13.40" lengthAdjust="spacingAndGlyphs">0.00</text>
<line x1="428.28" y1="491.50" x2="428.28" y2="494.50" stroke="#1a1a1a" stroke-width="1.25"/>
<text x="428.28" y="503.20" font-size="7.5" text-anchor="middle" textLength="13.40" lengthAdjust="spacingAndGlyphs">0.25</text>
<line x1="453.95" y1="491.50" x2="453.95" y2="494.50" stroke="#1a1a1a" stroke-width="1.25"/>
<text x="453.95" y="503.20" font-size="7.5" text-anchor="middle" textLength="13.40" lengthAdjust="spacingAndGlyphs">0.50</text>
<line x1="479.62" y1="491.50" x2="479.62" y2="494.50" stroke="#1a1a1a" stroke-width="1.25"/>
<text x="479.62" y="503.20" font-size="7.5" text-anchor="middle" textLength="13.40" lengthAdjust="spacingAndGlyphs">0.75</text>
<line x1="505.30" y1="491.50" x2="505.30" y2="494.50" stroke="#1a1a1a" stroke-width="1.25"/>
<text x="505.30" y="503.20" font-size="7.5" text-anchor="middle" textLength="12.60" lengthAdjust="spacingAndGlyphs">1.00</text>
<text x="453.30" y="516.30" font-size="8.8" text-anchor="middle" textLength="32.30" lengthAdjust="spacingAndGlyphs">JQ1 [µM]</text>
<text x="454.50" y="415.90" font-size="6.9" text-anchor="middle" textLength="41.40" lengthAdjust="spacingAndGlyphs">WSU-DLCL-2</text>
<polyline points="402.60,445.40 403.11,442.17 403.63,438.95 405.17,434.80 407.74,431.57 412.87,436.64 428.28,461.53 453.95,475.37 505.30,479.05" fill="none" stroke="#b0183c" stroke-width="0.95" stroke-linejoin="round"/>
<line x1="402.60" y1="443.09" x2="402.60" y2="447.70" stroke="#b0183c" stroke-width="0.8"/>
<line x1="401.30" y1="443.09" x2="403.90" y2="443.09" stroke="#b0183c" stroke-width="0.8"/>
<line x1="401.30" y1="447.70" x2="403.90" y2="447.70" stroke="#b0183c" stroke-width="0.8"/>
<line x1="403.11" y1="440.33" x2="403.11" y2="444.02" stroke="#b0183c" stroke-width="0.8"/>
<line x1="401.81" y1="440.33" x2="404.41" y2="440.33" stroke="#b0183c" stroke-width="0.8"/>
<line x1="401.81" y1="444.02" x2="404.41" y2="444.02" stroke="#b0183c" stroke-width="0.8"/>
<line x1="403.63" y1="437.56" x2="403.63" y2="440.33" stroke="#b0183c" stroke-width="0.8"/>
<line x1="402.33" y1="437.56" x2="404.93" y2="437.56" stroke="#b0183c" stroke-width="0.8"/>
<line x1="402.33" y1="440.33" x2="404.93" y2="440.33" stroke="#b0183c" stroke-width="0.8"/>
<line x1="405.17" y1="433.41" x2="405.17" y2="436.18" stroke="#b0183c" stroke-width="0.8"/>
<line x1="403.87" y1="433.41" x2="406.47" y2="433.41" stroke="#b0183c" stroke-width="0.8"/>
<line x1="403.87" y1="436.18" x2="406.47" y2="436.18" stroke="#b0183c" stroke-width="0.8"/>
<line x1="407.74" y1="430.19" x2="407.74" y2="432.95" stroke="#b0183c" stroke-width="0.8"/>
<line x1="406.44" y1="430.19" x2="409.04" y2="430.19" stroke="#b0183c" stroke-width="0.8"/>
<line x1="406.44" y1="432.95" x2="409.04" y2="432.95" stroke="#b0183c" stroke-width="0.8"/>
<line x1="412.87" y1="434.34" x2="412.87" y2="438.95" stroke="#b0183c" stroke-width="0.8"/>
<line x1="411.57" y1="434.34" x2="414.17" y2="434.34" stroke="#b0183c" stroke-width="0.8"/>
<line x1="411.57" y1="438.95" x2="414.17" y2="438.95" stroke="#b0183c" stroke-width="0.8"/>
<line x1="505.30" y1="478.59" x2="505.30" y2="479.51" stroke="#b0183c" stroke-width="0.8"/>
<line x1="504.00" y1="478.59" x2="506.60" y2="478.59" stroke="#b0183c" stroke-width="0.8"/>
<line x1="504.00" y1="479.51" x2="506.60" y2="479.51" stroke="#b0183c" stroke-width="0.8"/>
<rect x="401.10" y="443.90" width="3.00" height="3.00" fill="#b0183c" stroke="none" stroke-width="0"/>
<rect x="401.61" y="440.67" width="3.00" height="3.00" fill="#b0183c" stroke="none" stroke-width="0"/>
<rect x="402.13" y="437.45" width="3.00" height="3.00" fill="#b0183c" stroke="none" stroke-width="0"/>
<rect x="403.67" y="433.30" width="3.00" height="3.00" fill="#b0183c" stroke="none" stroke-width="0"/>
<rect x="406.24" y="430.07" width="3.00" height="3.00" fill="#b0183c" stroke="none" stroke-width="0"/>
<rect x="411.37" y="435.14" width="3.00" height="3.00" fill="#b0183c" stroke="none" stroke-width="0"/>
<rect x="426.78" y="460.03" width="3.00" height="3.00" fill="#b0183c" stroke="none" stroke-width="0"/>
<rect x="452.45" y="473.87" width="3.00" height="3.00" fill="#b0183c" stroke="none" stroke-width="0"/>
<rect x="503.80" y="477.55" width="3.00" height="3.00" fill="#b0183c" stroke="none" stroke-width="0"/>
<polyline points="402.60,446.32 403.11,447.70 403.63,449.09 405.17,450.01 407.74,452.31 412.87,459.69 428.28,475.83 453.95,481.82 505.30,484.12" fill="none" stroke="#363d4a" stroke-width="0.95" stroke-linejoin="round"/>
<line x1="402.60" y1="444.02" x2="402.60" y2="448.63" stroke="#363d4a" stroke-width="0.8"/>
<line x1="401.30" y1="444.02" x2="403.90" y2="444.02" stroke="#363d4a" stroke-width="0.8"/>
<line x1="401.30" y1="448.63" x2="403.90" y2="448.63" stroke="#363d4a" stroke-width="0.8"/>
<line x1="403.11" y1="445.86" x2="403.11" y2="449.55" stroke="#363d4a" stroke-width="0.8"/>
<line x1="401.81" y1="445.86" x2="404.41" y2="445.86" stroke="#363d4a" stroke-width="0.8"/>
<line x1="401.81" y1="449.55" x2="404.41" y2="449.55" stroke="#363d4a" stroke-width="0.8"/>
<line x1="403.63" y1="447.70" x2="403.63" y2="450.47" stroke="#363d4a" stroke-width="0.8"/>
<line x1="402.33" y1="447.70" x2="404.93" y2="447.70" stroke="#363d4a" stroke-width="0.8"/>
<line x1="402.33" y1="450.47" x2="404.93" y2="450.47" stroke="#363d4a" stroke-width="0.8"/>
<line x1="405.17" y1="449.09" x2="405.17" y2="450.93" stroke="#363d4a" stroke-width="0.8"/>
<line x1="403.87" y1="449.09" x2="406.47" y2="449.09" stroke="#363d4a" stroke-width="0.8"/>
<line x1="403.87" y1="450.93" x2="406.47" y2="450.93" stroke="#363d4a" stroke-width="0.8"/>
<line x1="407.74" y1="451.85" x2="407.74" y2="452.78" stroke="#363d4a" stroke-width="0.8"/>
<line x1="406.44" y1="451.85" x2="409.04" y2="451.85" stroke="#363d4a" stroke-width="0.8"/>
<line x1="406.44" y1="452.78" x2="409.04" y2="452.78" stroke="#363d4a" stroke-width="0.8"/>
<circle cx="402.60" cy="446.32" r="1.4" fill="#363d4a"/>
<circle cx="403.11" cy="447.70" r="1.4" fill="#363d4a"/>
<circle cx="403.63" cy="449.09" r="1.4" fill="#363d4a"/>
<circle cx="405.17" cy="450.01" r="1.4" fill="#363d4a"/>
<circle cx="407.74" cy="452.31" r="1.4" fill="#363d4a"/>
<circle cx="412.87" cy="459.69" r="1.4" fill="#363d4a"/>
<circle cx="428.28" cy="475.83" r="1.4" fill="#363d4a"/>
<circle cx="453.95" cy="481.82" r="1.4" fill="#363d4a"/>
<circle cx="505.30" cy="484.12" r="1.4" fill="#363d4a"/>
<line x1="468.50" y1="429.40" x2="475.70" y2="429.40" stroke="#363d4a" stroke-width="1"/>
<circle cx="472.10" cy="429.40" r="1.3" fill="#363d4a"/>
<text x="480.00" y="431.90" font-size="7" text-anchor="start" textLength="23.50" lengthAdjust="spacingAndGlyphs">Solvent</text>
<line x1="468.50" y1="436.80" x2="475.70" y2="436.80" stroke="#b0183c" stroke-width="1"/>
<rect x="470.60" y="435.30" width="3.00" height="3.00" fill="#b0183c" stroke="none" stroke-width="0"/>
<text x="480.00" y="439.30" font-size="7" text-anchor="start" textLength="17.00" lengthAdjust="spacingAndGlyphs">iFSP1</text>
</svg>
</body></html>
